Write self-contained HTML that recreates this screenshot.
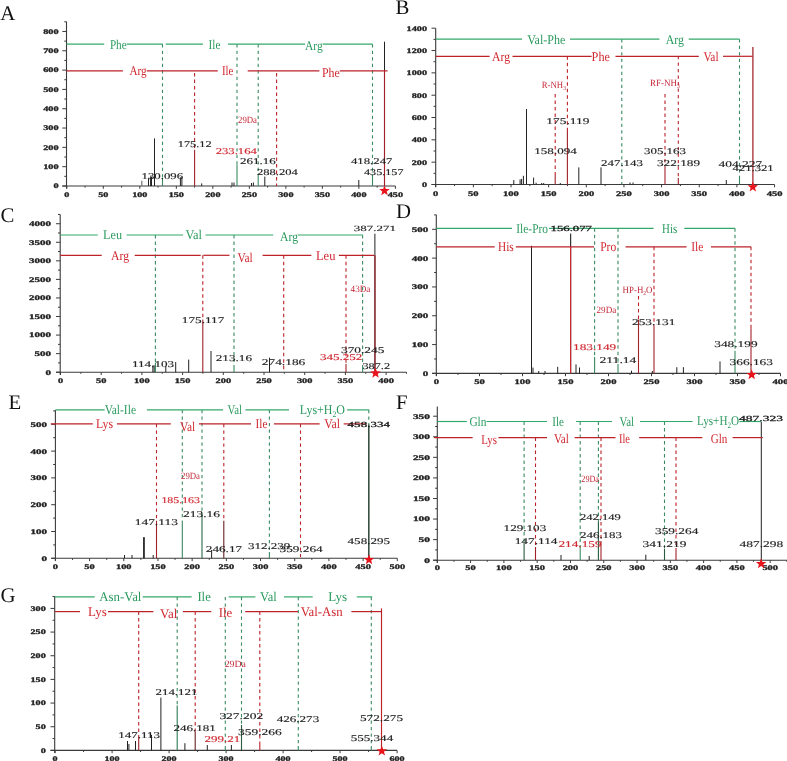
<!DOCTYPE html>
<html><head><meta charset="utf-8"><style>
html,body{margin:0;padding:0;background:#fff;}
svg{display:block;filter:blur(0.35px);}
text{font-family:"Liberation Serif",serif;text-rendering:geometricPrecision;}
.tk{font-weight:bold;stroke:#222;stroke-width:0.3px;}
.pb{font-weight:normal;stroke:#1a1a1a;stroke-width:0.28px;}
</style></head><body>
<svg width="787" height="761" viewBox="0 0 787 761">
<rect width="787" height="761" fill="#fff"/>
<text class="lt" x="0.3" y="20.1" font-size="20.8" fill="#111">A</text>
<line x1="66.50" y1="21.60" x2="66.50" y2="188.50" stroke="#3a3a3a" stroke-width="1.1"/>
<line x1="62.30" y1="186.00" x2="66.50" y2="186.00" stroke="#3a3a3a" stroke-width="1.0"/>
<text class="tk" x="53.45" y="188.40" font-size="7.1" fill="#222" textLength="5.15" lengthAdjust="spacingAndGlyphs">0</text>
<line x1="64.30" y1="176.34" x2="66.50" y2="176.34" stroke="#3a3a3a" stroke-width="1.0"/>
<line x1="62.30" y1="166.68" x2="66.50" y2="166.68" stroke="#3a3a3a" stroke-width="1.0"/>
<text class="tk" x="43.15" y="169.08" font-size="7.1" fill="#222" textLength="15.45" lengthAdjust="spacingAndGlyphs">100</text>
<line x1="64.30" y1="157.02" x2="66.50" y2="157.02" stroke="#3a3a3a" stroke-width="1.0"/>
<line x1="62.30" y1="147.36" x2="66.50" y2="147.36" stroke="#3a3a3a" stroke-width="1.0"/>
<text class="tk" x="43.15" y="149.76" font-size="7.1" fill="#222" textLength="15.45" lengthAdjust="spacingAndGlyphs">200</text>
<line x1="64.30" y1="137.70" x2="66.50" y2="137.70" stroke="#3a3a3a" stroke-width="1.0"/>
<line x1="62.30" y1="128.04" x2="66.50" y2="128.04" stroke="#3a3a3a" stroke-width="1.0"/>
<text class="tk" x="43.15" y="130.44" font-size="7.1" fill="#222" textLength="15.45" lengthAdjust="spacingAndGlyphs">300</text>
<line x1="64.30" y1="118.38" x2="66.50" y2="118.38" stroke="#3a3a3a" stroke-width="1.0"/>
<line x1="62.30" y1="108.72" x2="66.50" y2="108.72" stroke="#3a3a3a" stroke-width="1.0"/>
<text class="tk" x="43.15" y="111.12" font-size="7.1" fill="#222" textLength="15.45" lengthAdjust="spacingAndGlyphs">400</text>
<line x1="64.30" y1="99.06" x2="66.50" y2="99.06" stroke="#3a3a3a" stroke-width="1.0"/>
<line x1="62.30" y1="89.40" x2="66.50" y2="89.40" stroke="#3a3a3a" stroke-width="1.0"/>
<text class="tk" x="43.15" y="91.80" font-size="7.1" fill="#222" textLength="15.45" lengthAdjust="spacingAndGlyphs">500</text>
<line x1="64.30" y1="79.74" x2="66.50" y2="79.74" stroke="#3a3a3a" stroke-width="1.0"/>
<line x1="62.30" y1="70.08" x2="66.50" y2="70.08" stroke="#3a3a3a" stroke-width="1.0"/>
<text class="tk" x="43.15" y="72.48" font-size="7.1" fill="#222" textLength="15.45" lengthAdjust="spacingAndGlyphs">600</text>
<line x1="64.30" y1="60.42" x2="66.50" y2="60.42" stroke="#3a3a3a" stroke-width="1.0"/>
<line x1="62.30" y1="50.76" x2="66.50" y2="50.76" stroke="#3a3a3a" stroke-width="1.0"/>
<text class="tk" x="43.15" y="53.16" font-size="7.1" fill="#222" textLength="15.45" lengthAdjust="spacingAndGlyphs">700</text>
<line x1="64.30" y1="41.10" x2="66.50" y2="41.10" stroke="#3a3a3a" stroke-width="1.0"/>
<line x1="62.30" y1="31.44" x2="66.50" y2="31.44" stroke="#3a3a3a" stroke-width="1.0"/>
<text class="tk" x="43.15" y="33.84" font-size="7.1" fill="#222" textLength="15.45" lengthAdjust="spacingAndGlyphs">800</text>
<line x1="64.30" y1="21.78" x2="66.50" y2="21.78" stroke="#3a3a3a" stroke-width="1.0"/>
<line x1="62.30" y1="186.00" x2="395.40" y2="186.00" stroke="#3a3a3a" stroke-width="1.1"/>
<line x1="66.80" y1="186.00" x2="66.80" y2="188.80" stroke="#3a3a3a" stroke-width="1.0"/>
<text class="tk" x="64.25" y="197.30" font-size="7.1" fill="#222" textLength="5.10" lengthAdjust="spacingAndGlyphs">0</text>
<line x1="85.05" y1="186.00" x2="85.05" y2="187.60" stroke="#3a3a3a" stroke-width="1.0"/>
<line x1="103.31" y1="186.00" x2="103.31" y2="188.80" stroke="#3a3a3a" stroke-width="1.0"/>
<text class="tk" x="98.21" y="197.30" font-size="7.1" fill="#222" textLength="10.20" lengthAdjust="spacingAndGlyphs">50</text>
<line x1="121.56" y1="186.00" x2="121.56" y2="187.60" stroke="#3a3a3a" stroke-width="1.0"/>
<line x1="139.82" y1="186.00" x2="139.82" y2="188.80" stroke="#3a3a3a" stroke-width="1.0"/>
<text class="tk" x="132.17" y="197.30" font-size="7.1" fill="#222" textLength="15.30" lengthAdjust="spacingAndGlyphs">100</text>
<line x1="158.07" y1="186.00" x2="158.07" y2="187.60" stroke="#3a3a3a" stroke-width="1.0"/>
<line x1="176.33" y1="186.00" x2="176.33" y2="188.80" stroke="#3a3a3a" stroke-width="1.0"/>
<text class="tk" x="168.68" y="197.30" font-size="7.1" fill="#222" textLength="15.30" lengthAdjust="spacingAndGlyphs">150</text>
<line x1="194.58" y1="186.00" x2="194.58" y2="187.60" stroke="#3a3a3a" stroke-width="1.0"/>
<line x1="212.84" y1="186.00" x2="212.84" y2="188.80" stroke="#3a3a3a" stroke-width="1.0"/>
<text class="tk" x="205.19" y="197.30" font-size="7.1" fill="#222" textLength="15.30" lengthAdjust="spacingAndGlyphs">200</text>
<line x1="231.09" y1="186.00" x2="231.09" y2="187.60" stroke="#3a3a3a" stroke-width="1.0"/>
<line x1="249.35" y1="186.00" x2="249.35" y2="188.80" stroke="#3a3a3a" stroke-width="1.0"/>
<text class="tk" x="241.70" y="197.30" font-size="7.1" fill="#222" textLength="15.30" lengthAdjust="spacingAndGlyphs">250</text>
<line x1="267.60" y1="186.00" x2="267.60" y2="187.60" stroke="#3a3a3a" stroke-width="1.0"/>
<line x1="285.86" y1="186.00" x2="285.86" y2="188.80" stroke="#3a3a3a" stroke-width="1.0"/>
<text class="tk" x="278.21" y="197.30" font-size="7.1" fill="#222" textLength="15.30" lengthAdjust="spacingAndGlyphs">300</text>
<line x1="304.12" y1="186.00" x2="304.12" y2="187.60" stroke="#3a3a3a" stroke-width="1.0"/>
<line x1="322.37" y1="186.00" x2="322.37" y2="188.80" stroke="#3a3a3a" stroke-width="1.0"/>
<text class="tk" x="314.72" y="197.30" font-size="7.1" fill="#222" textLength="15.30" lengthAdjust="spacingAndGlyphs">350</text>
<line x1="340.62" y1="186.00" x2="340.62" y2="187.60" stroke="#3a3a3a" stroke-width="1.0"/>
<line x1="358.88" y1="186.00" x2="358.88" y2="188.80" stroke="#3a3a3a" stroke-width="1.0"/>
<text class="tk" x="351.23" y="197.30" font-size="7.1" fill="#222" textLength="15.30" lengthAdjust="spacingAndGlyphs">400</text>
<line x1="377.13" y1="186.00" x2="377.13" y2="187.60" stroke="#3a3a3a" stroke-width="1.0"/>
<line x1="395.39" y1="186.00" x2="395.39" y2="188.80" stroke="#3a3a3a" stroke-width="1.0"/>
<text class="tk" x="387.74" y="197.30" font-size="7.1" fill="#222" textLength="15.30" lengthAdjust="spacingAndGlyphs">450</text>
<line x1="141.80" y1="180.80" x2="141.80" y2="186.00" stroke="#777" stroke-width="1.25"/>
<line x1="148.50" y1="178.30" x2="148.50" y2="186.00" stroke="#222" stroke-width="1.0"/>
<line x1="150.60" y1="176.40" x2="150.60" y2="186.00" stroke="#222" stroke-width="1.0"/>
<line x1="151.50" y1="177.00" x2="151.50" y2="186.00" stroke="#222" stroke-width="1.0"/>
<line x1="154.50" y1="138.40" x2="154.50" y2="186.00" stroke="#222" stroke-width="1.0"/>
<line x1="180.40" y1="177.30" x2="180.40" y2="186.00" stroke="#222" stroke-width="1.0"/>
<line x1="181.90" y1="177.30" x2="181.90" y2="186.00" stroke="#222" stroke-width="1.0"/>
<line x1="201.70" y1="183.40" x2="201.70" y2="186.00" stroke="#222" stroke-width="1.0"/>
<line x1="232.00" y1="182.50" x2="232.00" y2="186.00" stroke="#222" stroke-width="1.0"/>
<line x1="234.00" y1="182.50" x2="234.00" y2="186.00" stroke="#222" stroke-width="1.0"/>
<line x1="251.50" y1="183.00" x2="251.50" y2="186.00" stroke="#222" stroke-width="1.0"/>
<line x1="253.40" y1="182.50" x2="253.40" y2="186.00" stroke="#222" stroke-width="1.0"/>
<line x1="264.80" y1="176.60" x2="264.80" y2="186.00" stroke="#222" stroke-width="1.0"/>
<line x1="358.80" y1="180.00" x2="358.80" y2="186.00" stroke="#222" stroke-width="1.0"/>
<line x1="384.50" y1="41.70" x2="384.50" y2="186.00" stroke="#222" stroke-width="1.0"/>
<line x1="162.50" y1="44.20" x2="162.50" y2="178.00" stroke="#3a8a62" stroke-width="1.1" stroke-dasharray="3.4,3.1"/>
<line x1="162.50" y1="178.00" x2="162.50" y2="186.00" stroke="#3a8a62" stroke-width="1.1"/>
<line x1="237.00" y1="44.20" x2="237.00" y2="164.60" stroke="#3a8a62" stroke-width="1.1" stroke-dasharray="3.4,3.1"/>
<line x1="237.00" y1="164.60" x2="237.00" y2="186.00" stroke="#3a8a62" stroke-width="1.1"/>
<line x1="258.20" y1="44.20" x2="258.20" y2="174.80" stroke="#3a8a62" stroke-width="1.1" stroke-dasharray="3.4,3.1"/>
<line x1="258.20" y1="174.80" x2="258.20" y2="186.00" stroke="#3a8a62" stroke-width="1.1"/>
<line x1="372.50" y1="44.20" x2="372.50" y2="174.80" stroke="#3a8a62" stroke-width="1.1" stroke-dasharray="3.4,3.1"/>
<line x1="372.50" y1="174.80" x2="372.50" y2="186.00" stroke="#3a8a62" stroke-width="1.1"/>
<line x1="194.60" y1="73.00" x2="194.60" y2="149.80" stroke="#bc2228" stroke-width="1.1" stroke-dasharray="3.4,3.1"/>
<line x1="194.60" y1="149.80" x2="194.60" y2="186.00" stroke="#a02228" stroke-width="1.1"/>
<line x1="276.60" y1="73.00" x2="276.60" y2="186.00" stroke="#bc2228" stroke-width="1.1" stroke-dasharray="3.4,3.1"/>
<line x1="384.50" y1="70.80" x2="384.50" y2="186.00" stroke="#a02228" stroke-width="1.15"/>
<line x1="66.50" y1="44.20" x2="104.20" y2="44.20" stroke="#33a86a" stroke-width="1.2"/>
<line x1="126.70" y1="44.20" x2="162.90" y2="44.20" stroke="#33a86a" stroke-width="1.2"/>
<line x1="165.70" y1="44.20" x2="202.90" y2="44.20" stroke="#33a86a" stroke-width="1.2"/>
<line x1="228.00" y1="44.20" x2="305.00" y2="44.20" stroke="#33a86a" stroke-width="1.2"/>
<line x1="322.70" y1="44.20" x2="372.80" y2="44.20" stroke="#33a86a" stroke-width="1.2"/>
<line x1="66.50" y1="70.80" x2="122.90" y2="70.80" stroke="#bc2228" stroke-width="1.2"/>
<line x1="146.70" y1="70.80" x2="217.80" y2="70.80" stroke="#bc2228" stroke-width="1.2"/>
<line x1="247.70" y1="70.80" x2="319.40" y2="70.80" stroke="#bc2228" stroke-width="1.2"/>
<line x1="339.80" y1="70.80" x2="387.50" y2="70.80" stroke="#bc2228" stroke-width="1.2"/>
<text class="aa" x="109.90" y="48.60" font-size="13.3" fill="#2a9a5e" textLength="16.80" lengthAdjust="spacingAndGlyphs">Phe</text>
<text class="aa" x="208.60" y="48.60" font-size="13.3" fill="#2a9a5e" textLength="11.90" lengthAdjust="spacingAndGlyphs">Ile</text>
<text class="aa" x="305.00" y="49.60" font-size="13.3" fill="#2a9a5e" textLength="17.70" lengthAdjust="spacingAndGlyphs">Arg</text>
<text class="aa" x="129.50" y="75.20" font-size="13.3" fill="#d02830" textLength="17.20" lengthAdjust="spacingAndGlyphs">Arg</text>
<text class="aa" x="222.00" y="75.20" font-size="13.3" fill="#d02830" textLength="11.40" lengthAdjust="spacingAndGlyphs">Ile</text>
<text class="aa" x="322.00" y="76.70" font-size="13.3" fill="#d02830" textLength="17.80" lengthAdjust="spacingAndGlyphs">Phe</text>
<text class="pk" x="177.80" y="147.00" font-size="8.8" fill="#222" stroke="#222" stroke-width="0.14" textLength="33.90" lengthAdjust="spacingAndGlyphs">175.12</text>
<text class="pk" x="141.50" y="178.80" font-size="8.8" fill="#222" stroke="#222" stroke-width="0.14" textLength="41.60" lengthAdjust="spacingAndGlyphs">130.096</text>
<text class="pk" x="215.70" y="153.70" font-size="8.8" fill="#d02830" stroke="#d02830" stroke-width="0.14" textLength="41.20" lengthAdjust="spacingAndGlyphs">233.164</text>
<text class="pk" x="240.00" y="163.90" font-size="8.8" fill="#222" stroke="#222" stroke-width="0.14" textLength="35.70" lengthAdjust="spacingAndGlyphs">261.16</text>
<text class="pk" x="257.00" y="174.90" font-size="8.8" fill="#222" stroke="#222" stroke-width="0.14" textLength="40.80" lengthAdjust="spacingAndGlyphs">288.204</text>
<text class="pk" x="351.00" y="163.90" font-size="8.8" fill="#222" stroke="#222" stroke-width="0.14" textLength="41.40" lengthAdjust="spacingAndGlyphs">418.247</text>
<text class="pk" x="364.00" y="174.90" font-size="8.8" fill="#222" stroke="#222" stroke-width="0.14" textLength="39.50" lengthAdjust="spacingAndGlyphs">435.157</text>
<text class="sm" x="238.00" y="123.30" font-size="9.6" fill="#c42838" textLength="19.00" lengthAdjust="spacingAndGlyphs">29Da</text>
<polygon points="384.50,185.30 385.86,188.93 389.73,189.10 386.70,191.51 387.73,195.25 384.50,193.11 381.27,195.25 382.30,191.51 379.27,189.10 383.14,188.93" fill="#e8141c"/>
<text class="lt" x="395.5" y="13.7" font-size="20.8" fill="#111">B</text>
<line x1="435.70" y1="28.20" x2="435.70" y2="187.00" stroke="#3a3a3a" stroke-width="1.1"/>
<line x1="431.50" y1="184.50" x2="435.70" y2="184.50" stroke="#3a3a3a" stroke-width="1.0"/>
<text class="tk" x="421.90" y="186.90" font-size="7.1" fill="#222" textLength="5.10" lengthAdjust="spacingAndGlyphs">0</text>
<line x1="433.50" y1="173.34" x2="435.70" y2="173.34" stroke="#3a3a3a" stroke-width="1.0"/>
<line x1="431.50" y1="162.17" x2="435.70" y2="162.17" stroke="#3a3a3a" stroke-width="1.0"/>
<text class="tk" x="411.70" y="164.57" font-size="7.1" fill="#222" textLength="15.30" lengthAdjust="spacingAndGlyphs">200</text>
<line x1="433.50" y1="151.01" x2="435.70" y2="151.01" stroke="#3a3a3a" stroke-width="1.0"/>
<line x1="431.50" y1="139.84" x2="435.70" y2="139.84" stroke="#3a3a3a" stroke-width="1.0"/>
<text class="tk" x="411.70" y="142.24" font-size="7.1" fill="#222" textLength="15.30" lengthAdjust="spacingAndGlyphs">400</text>
<line x1="433.50" y1="128.68" x2="435.70" y2="128.68" stroke="#3a3a3a" stroke-width="1.0"/>
<line x1="431.50" y1="117.52" x2="435.70" y2="117.52" stroke="#3a3a3a" stroke-width="1.0"/>
<text class="tk" x="411.70" y="119.92" font-size="7.1" fill="#222" textLength="15.30" lengthAdjust="spacingAndGlyphs">600</text>
<line x1="433.50" y1="106.35" x2="435.70" y2="106.35" stroke="#3a3a3a" stroke-width="1.0"/>
<line x1="431.50" y1="95.19" x2="435.70" y2="95.19" stroke="#3a3a3a" stroke-width="1.0"/>
<text class="tk" x="411.70" y="97.59" font-size="7.1" fill="#222" textLength="15.30" lengthAdjust="spacingAndGlyphs">800</text>
<line x1="433.50" y1="84.02" x2="435.70" y2="84.02" stroke="#3a3a3a" stroke-width="1.0"/>
<line x1="431.50" y1="72.86" x2="435.70" y2="72.86" stroke="#3a3a3a" stroke-width="1.0"/>
<text class="tk" x="406.60" y="75.26" font-size="7.1" fill="#222" textLength="20.40" lengthAdjust="spacingAndGlyphs">1000</text>
<line x1="433.50" y1="61.70" x2="435.70" y2="61.70" stroke="#3a3a3a" stroke-width="1.0"/>
<line x1="431.50" y1="50.53" x2="435.70" y2="50.53" stroke="#3a3a3a" stroke-width="1.0"/>
<text class="tk" x="406.60" y="52.93" font-size="7.1" fill="#222" textLength="20.40" lengthAdjust="spacingAndGlyphs">1200</text>
<line x1="433.50" y1="39.37" x2="435.70" y2="39.37" stroke="#3a3a3a" stroke-width="1.0"/>
<line x1="431.50" y1="28.20" x2="435.70" y2="28.20" stroke="#3a3a3a" stroke-width="1.0"/>
<text class="tk" x="406.60" y="30.60" font-size="7.1" fill="#222" textLength="20.40" lengthAdjust="spacingAndGlyphs">1400</text>
<line x1="431.50" y1="184.50" x2="774.50" y2="184.50" stroke="#3a3a3a" stroke-width="1.1"/>
<line x1="435.70" y1="184.50" x2="435.70" y2="187.30" stroke="#3a3a3a" stroke-width="1.0"/>
<text class="tk" x="433.07" y="195.60" font-size="7.1" fill="#222" textLength="5.25" lengthAdjust="spacingAndGlyphs">0</text>
<line x1="454.52" y1="184.50" x2="454.52" y2="186.10" stroke="#3a3a3a" stroke-width="1.0"/>
<line x1="473.35" y1="184.50" x2="473.35" y2="187.30" stroke="#3a3a3a" stroke-width="1.0"/>
<text class="tk" x="468.10" y="195.60" font-size="7.1" fill="#222" textLength="10.50" lengthAdjust="spacingAndGlyphs">50</text>
<line x1="492.17" y1="184.50" x2="492.17" y2="186.10" stroke="#3a3a3a" stroke-width="1.0"/>
<line x1="511.00" y1="184.50" x2="511.00" y2="187.30" stroke="#3a3a3a" stroke-width="1.0"/>
<text class="tk" x="503.12" y="195.60" font-size="7.1" fill="#222" textLength="15.75" lengthAdjust="spacingAndGlyphs">100</text>
<line x1="529.83" y1="184.50" x2="529.83" y2="186.10" stroke="#3a3a3a" stroke-width="1.0"/>
<line x1="548.65" y1="184.50" x2="548.65" y2="187.30" stroke="#3a3a3a" stroke-width="1.0"/>
<text class="tk" x="540.77" y="195.60" font-size="7.1" fill="#222" textLength="15.75" lengthAdjust="spacingAndGlyphs">150</text>
<line x1="567.48" y1="184.50" x2="567.48" y2="186.10" stroke="#3a3a3a" stroke-width="1.0"/>
<line x1="586.30" y1="184.50" x2="586.30" y2="187.30" stroke="#3a3a3a" stroke-width="1.0"/>
<text class="tk" x="578.42" y="195.60" font-size="7.1" fill="#222" textLength="15.75" lengthAdjust="spacingAndGlyphs">200</text>
<line x1="605.12" y1="184.50" x2="605.12" y2="186.10" stroke="#3a3a3a" stroke-width="1.0"/>
<line x1="623.95" y1="184.50" x2="623.95" y2="187.30" stroke="#3a3a3a" stroke-width="1.0"/>
<text class="tk" x="616.08" y="195.60" font-size="7.1" fill="#222" textLength="15.75" lengthAdjust="spacingAndGlyphs">250</text>
<line x1="642.78" y1="184.50" x2="642.78" y2="186.10" stroke="#3a3a3a" stroke-width="1.0"/>
<line x1="661.60" y1="184.50" x2="661.60" y2="187.30" stroke="#3a3a3a" stroke-width="1.0"/>
<text class="tk" x="653.73" y="195.60" font-size="7.1" fill="#222" textLength="15.75" lengthAdjust="spacingAndGlyphs">300</text>
<line x1="680.43" y1="184.50" x2="680.43" y2="186.10" stroke="#3a3a3a" stroke-width="1.0"/>
<line x1="699.25" y1="184.50" x2="699.25" y2="187.30" stroke="#3a3a3a" stroke-width="1.0"/>
<text class="tk" x="691.38" y="195.60" font-size="7.1" fill="#222" textLength="15.75" lengthAdjust="spacingAndGlyphs">350</text>
<line x1="718.08" y1="184.50" x2="718.08" y2="186.10" stroke="#3a3a3a" stroke-width="1.0"/>
<line x1="736.90" y1="184.50" x2="736.90" y2="187.30" stroke="#3a3a3a" stroke-width="1.0"/>
<text class="tk" x="729.02" y="195.60" font-size="7.1" fill="#222" textLength="15.75" lengthAdjust="spacingAndGlyphs">400</text>
<line x1="755.73" y1="184.50" x2="755.73" y2="186.10" stroke="#3a3a3a" stroke-width="1.0"/>
<line x1="774.55" y1="184.50" x2="774.55" y2="187.30" stroke="#3a3a3a" stroke-width="1.0"/>
<text class="tk" x="766.67" y="195.60" font-size="7.1" fill="#222" textLength="15.75" lengthAdjust="spacingAndGlyphs">450</text>
<line x1="513.80" y1="180.10" x2="513.80" y2="184.50" stroke="#222" stroke-width="1.0"/>
<line x1="520.10" y1="179.40" x2="520.10" y2="184.50" stroke="#222" stroke-width="1.0"/>
<line x1="521.60" y1="178.90" x2="521.60" y2="184.50" stroke="#222" stroke-width="1.0"/>
<line x1="523.40" y1="175.80" x2="523.40" y2="184.50" stroke="#222" stroke-width="1.0"/>
<line x1="526.50" y1="109.00" x2="526.50" y2="184.50" stroke="#222" stroke-width="1.0"/>
<line x1="533.60" y1="177.60" x2="533.60" y2="184.50" stroke="#222" stroke-width="1.0"/>
<line x1="536.10" y1="182.70" x2="536.10" y2="184.50" stroke="#222" stroke-width="1.0"/>
<line x1="541.70" y1="183.00" x2="541.70" y2="184.50" stroke="#222" stroke-width="1.0"/>
<line x1="543.70" y1="183.00" x2="543.70" y2="184.50" stroke="#222" stroke-width="1.0"/>
<line x1="560.30" y1="183.00" x2="560.30" y2="184.50" stroke="#222" stroke-width="1.0"/>
<line x1="578.80" y1="167.40" x2="578.80" y2="184.50" stroke="#222" stroke-width="1.0"/>
<line x1="601.00" y1="167.40" x2="601.00" y2="184.50" stroke="#222" stroke-width="1.0"/>
<line x1="630.00" y1="182.50" x2="630.00" y2="184.50" stroke="#222" stroke-width="1.0"/>
<line x1="633.00" y1="182.50" x2="633.00" y2="184.50" stroke="#222" stroke-width="1.0"/>
<line x1="726.30" y1="180.00" x2="726.30" y2="184.50" stroke="#222" stroke-width="1.0"/>
<line x1="752.90" y1="47.00" x2="752.90" y2="184.50" stroke="#a02228" stroke-width="1.25"/>
<line x1="621.80" y1="39.20" x2="621.80" y2="182.00" stroke="#3a8a62" stroke-width="1.1" stroke-dasharray="3.4,3.1"/>
<line x1="621.80" y1="182.00" x2="621.80" y2="184.50" stroke="#3a8a62" stroke-width="1.1"/>
<line x1="739.50" y1="39.20" x2="739.50" y2="178.00" stroke="#3a8a62" stroke-width="1.1" stroke-dasharray="3.4,3.1"/>
<line x1="739.50" y1="178.00" x2="739.50" y2="184.50" stroke="#3a8a62" stroke-width="1.1"/>
<line x1="555.20" y1="94.00" x2="555.20" y2="175.00" stroke="#bc2228" stroke-width="1.1" stroke-dasharray="3.4,3.1"/>
<line x1="555.20" y1="175.00" x2="555.20" y2="184.50" stroke="#a02228" stroke-width="1.1"/>
<line x1="567.40" y1="56.30" x2="567.40" y2="131.00" stroke="#bc2228" stroke-width="1.1" stroke-dasharray="3.4,3.1"/>
<line x1="567.40" y1="131.00" x2="567.40" y2="184.50" stroke="#a02228" stroke-width="1.1"/>
<line x1="665.00" y1="94.00" x2="665.00" y2="166.00" stroke="#bc2228" stroke-width="1.1" stroke-dasharray="3.4,3.1"/>
<line x1="665.00" y1="166.00" x2="665.00" y2="184.50" stroke="#a02228" stroke-width="1.1"/>
<line x1="678.30" y1="55.90" x2="678.30" y2="178.00" stroke="#bc2228" stroke-width="1.1" stroke-dasharray="3.4,3.1"/>
<line x1="678.30" y1="178.00" x2="678.30" y2="184.50" stroke="#a02228" stroke-width="1.1"/>
<line x1="435.70" y1="39.20" x2="522.00" y2="39.20" stroke="#33a86a" stroke-width="1.2"/>
<line x1="570.00" y1="39.20" x2="659.40" y2="39.20" stroke="#33a86a" stroke-width="1.2"/>
<line x1="688.70" y1="39.20" x2="739.50" y2="39.20" stroke="#33a86a" stroke-width="1.2"/>
<line x1="435.70" y1="56.30" x2="489.60" y2="56.30" stroke="#bc2228" stroke-width="1.2"/>
<line x1="512.50" y1="56.30" x2="591.60" y2="56.30" stroke="#bc2228" stroke-width="1.2"/>
<line x1="615.50" y1="56.30" x2="698.80" y2="56.30" stroke="#bc2228" stroke-width="1.2"/>
<line x1="723.00" y1="56.30" x2="752.70" y2="56.30" stroke="#bc2228" stroke-width="1.2"/>
<text class="aa" x="527.20" y="43.60" font-size="13.3" fill="#2a9a5e" textLength="38.10" lengthAdjust="spacingAndGlyphs">Val-Phe</text>
<text class="aa" x="665.80" y="43.60" font-size="13.3" fill="#2a9a5e" textLength="18.20" lengthAdjust="spacingAndGlyphs">Arg</text>
<text class="aa" x="492.00" y="60.70" font-size="13.3" fill="#d02830" textLength="18.00" lengthAdjust="spacingAndGlyphs">Arg</text>
<text class="aa" x="591.60" y="60.70" font-size="13.3" fill="#d02830" textLength="18.30" lengthAdjust="spacingAndGlyphs">Phe</text>
<text class="aa" x="703.40" y="60.70" font-size="13.3" fill="#d02830" textLength="15.20" lengthAdjust="spacingAndGlyphs">Val</text>
<text class="pk" x="546.30" y="123.50" font-size="8.8" fill="#222" stroke="#222" stroke-width="0.14" textLength="43.20" lengthAdjust="spacingAndGlyphs">175.119</text>
<text class="pk" x="534.30" y="153.50" font-size="8.8" fill="#222" stroke="#222" stroke-width="0.14" textLength="42.50" lengthAdjust="spacingAndGlyphs">158.094</text>
<text class="pk" x="601.00" y="166.10" font-size="8.8" fill="#222" stroke="#222" stroke-width="0.14" textLength="42.00" lengthAdjust="spacingAndGlyphs">247.143</text>
<text class="pk" x="644.00" y="153.50" font-size="8.8" fill="#222" stroke="#222" stroke-width="0.14" textLength="42.00" lengthAdjust="spacingAndGlyphs">305.163</text>
<text class="pk" x="657.00" y="166.10" font-size="8.8" fill="#222" stroke="#222" stroke-width="0.14" textLength="43.00" lengthAdjust="spacingAndGlyphs">322.189</text>
<text class="pk" x="718.60" y="167.10" font-size="8.8" fill="#222" stroke="#222" stroke-width="0.14" textLength="43.70" lengthAdjust="spacingAndGlyphs">404.227</text>
<text class="pk" x="732.50" y="170.70" font-size="8.8" fill="#222" stroke="#222" stroke-width="0.14" textLength="41.10" lengthAdjust="spacingAndGlyphs">421.321</text>
<text class="sm" x="541.70" y="88.40" font-size="9.6" fill="#c42838" textLength="24.20" lengthAdjust="spacingAndGlyphs">R-NH<tspan font-size="6" dy="2">3</tspan></text>
<text class="sm" x="650.00" y="85.90" font-size="9.6" fill="#c42838" textLength="29.80" lengthAdjust="spacingAndGlyphs">RF-NH<tspan font-size="6" dy="2">3</tspan></text>
<polygon points="752.80,181.50 754.16,185.13 758.03,185.30 755.00,187.71 756.03,191.45 752.80,189.31 749.57,191.45 750.60,187.71 747.57,185.30 751.44,185.13" fill="#e8141c"/>
<text class="lt" x="0.6" y="222.0" font-size="20.8" fill="#111">C</text>
<line x1="60.20" y1="214.60" x2="60.20" y2="374.70" stroke="#3a3a3a" stroke-width="1.1"/>
<line x1="56.00" y1="372.20" x2="60.20" y2="372.20" stroke="#3a3a3a" stroke-width="1.0"/>
<text class="tk" x="45.60" y="374.60" font-size="7.1" fill="#222" textLength="5.50" lengthAdjust="spacingAndGlyphs">0</text>
<line x1="58.00" y1="362.92" x2="60.20" y2="362.92" stroke="#3a3a3a" stroke-width="1.0"/>
<line x1="56.00" y1="353.64" x2="60.20" y2="353.64" stroke="#3a3a3a" stroke-width="1.0"/>
<text class="tk" x="34.60" y="356.04" font-size="7.1" fill="#222" textLength="16.50" lengthAdjust="spacingAndGlyphs">500</text>
<line x1="58.00" y1="344.36" x2="60.20" y2="344.36" stroke="#3a3a3a" stroke-width="1.0"/>
<line x1="56.00" y1="335.08" x2="60.20" y2="335.08" stroke="#3a3a3a" stroke-width="1.0"/>
<text class="tk" x="29.10" y="337.48" font-size="7.1" fill="#222" textLength="22.00" lengthAdjust="spacingAndGlyphs">1000</text>
<line x1="58.00" y1="325.80" x2="60.20" y2="325.80" stroke="#3a3a3a" stroke-width="1.0"/>
<line x1="56.00" y1="316.52" x2="60.20" y2="316.52" stroke="#3a3a3a" stroke-width="1.0"/>
<text class="tk" x="29.10" y="318.92" font-size="7.1" fill="#222" textLength="22.00" lengthAdjust="spacingAndGlyphs">1500</text>
<line x1="58.00" y1="307.24" x2="60.20" y2="307.24" stroke="#3a3a3a" stroke-width="1.0"/>
<line x1="56.00" y1="297.96" x2="60.20" y2="297.96" stroke="#3a3a3a" stroke-width="1.0"/>
<text class="tk" x="29.10" y="300.36" font-size="7.1" fill="#222" textLength="22.00" lengthAdjust="spacingAndGlyphs">2000</text>
<line x1="58.00" y1="288.68" x2="60.20" y2="288.68" stroke="#3a3a3a" stroke-width="1.0"/>
<line x1="56.00" y1="279.40" x2="60.20" y2="279.40" stroke="#3a3a3a" stroke-width="1.0"/>
<text class="tk" x="29.10" y="281.80" font-size="7.1" fill="#222" textLength="22.00" lengthAdjust="spacingAndGlyphs">2500</text>
<line x1="58.00" y1="270.12" x2="60.20" y2="270.12" stroke="#3a3a3a" stroke-width="1.0"/>
<line x1="56.00" y1="260.84" x2="60.20" y2="260.84" stroke="#3a3a3a" stroke-width="1.0"/>
<text class="tk" x="29.10" y="263.24" font-size="7.1" fill="#222" textLength="22.00" lengthAdjust="spacingAndGlyphs">3000</text>
<line x1="58.00" y1="251.56" x2="60.20" y2="251.56" stroke="#3a3a3a" stroke-width="1.0"/>
<line x1="56.00" y1="242.28" x2="60.20" y2="242.28" stroke="#3a3a3a" stroke-width="1.0"/>
<text class="tk" x="29.10" y="244.68" font-size="7.1" fill="#222" textLength="22.00" lengthAdjust="spacingAndGlyphs">3500</text>
<line x1="58.00" y1="233.00" x2="60.20" y2="233.00" stroke="#3a3a3a" stroke-width="1.0"/>
<line x1="56.00" y1="223.72" x2="60.20" y2="223.72" stroke="#3a3a3a" stroke-width="1.0"/>
<text class="tk" x="29.10" y="226.12" font-size="7.1" fill="#222" textLength="22.00" lengthAdjust="spacingAndGlyphs">4000</text>
<line x1="58.00" y1="214.44" x2="60.20" y2="214.44" stroke="#3a3a3a" stroke-width="1.0"/>
<line x1="56.00" y1="372.20" x2="406.50" y2="372.20" stroke="#3a3a3a" stroke-width="1.1"/>
<line x1="60.50" y1="372.20" x2="60.50" y2="375.00" stroke="#3a3a3a" stroke-width="1.0"/>
<text class="tk" x="57.90" y="383.10" font-size="7.1" fill="#222" textLength="5.20" lengthAdjust="spacingAndGlyphs">0</text>
<line x1="80.85" y1="372.20" x2="80.85" y2="373.80" stroke="#3a3a3a" stroke-width="1.0"/>
<line x1="101.20" y1="372.20" x2="101.20" y2="375.00" stroke="#3a3a3a" stroke-width="1.0"/>
<text class="tk" x="96.00" y="383.10" font-size="7.1" fill="#222" textLength="10.40" lengthAdjust="spacingAndGlyphs">50</text>
<line x1="121.55" y1="372.20" x2="121.55" y2="373.80" stroke="#3a3a3a" stroke-width="1.0"/>
<line x1="141.90" y1="372.20" x2="141.90" y2="375.00" stroke="#3a3a3a" stroke-width="1.0"/>
<text class="tk" x="134.10" y="383.10" font-size="7.1" fill="#222" textLength="15.60" lengthAdjust="spacingAndGlyphs">100</text>
<line x1="162.25" y1="372.20" x2="162.25" y2="373.80" stroke="#3a3a3a" stroke-width="1.0"/>
<line x1="182.60" y1="372.20" x2="182.60" y2="375.00" stroke="#3a3a3a" stroke-width="1.0"/>
<text class="tk" x="174.80" y="383.10" font-size="7.1" fill="#222" textLength="15.60" lengthAdjust="spacingAndGlyphs">150</text>
<line x1="202.95" y1="372.20" x2="202.95" y2="373.80" stroke="#3a3a3a" stroke-width="1.0"/>
<line x1="223.30" y1="372.20" x2="223.30" y2="375.00" stroke="#3a3a3a" stroke-width="1.0"/>
<text class="tk" x="215.50" y="383.10" font-size="7.1" fill="#222" textLength="15.60" lengthAdjust="spacingAndGlyphs">200</text>
<line x1="243.65" y1="372.20" x2="243.65" y2="373.80" stroke="#3a3a3a" stroke-width="1.0"/>
<line x1="264.00" y1="372.20" x2="264.00" y2="375.00" stroke="#3a3a3a" stroke-width="1.0"/>
<text class="tk" x="256.20" y="383.10" font-size="7.1" fill="#222" textLength="15.60" lengthAdjust="spacingAndGlyphs">250</text>
<line x1="284.35" y1="372.20" x2="284.35" y2="373.80" stroke="#3a3a3a" stroke-width="1.0"/>
<line x1="304.70" y1="372.20" x2="304.70" y2="375.00" stroke="#3a3a3a" stroke-width="1.0"/>
<text class="tk" x="296.90" y="383.10" font-size="7.1" fill="#222" textLength="15.60" lengthAdjust="spacingAndGlyphs">300</text>
<line x1="325.05" y1="372.20" x2="325.05" y2="373.80" stroke="#3a3a3a" stroke-width="1.0"/>
<line x1="345.40" y1="372.20" x2="345.40" y2="375.00" stroke="#3a3a3a" stroke-width="1.0"/>
<text class="tk" x="337.60" y="383.10" font-size="7.1" fill="#222" textLength="15.60" lengthAdjust="spacingAndGlyphs">350</text>
<line x1="365.75" y1="372.20" x2="365.75" y2="373.80" stroke="#3a3a3a" stroke-width="1.0"/>
<line x1="386.10" y1="372.20" x2="386.10" y2="375.00" stroke="#3a3a3a" stroke-width="1.0"/>
<text class="tk" x="378.30" y="383.10" font-size="7.1" fill="#222" textLength="15.60" lengthAdjust="spacingAndGlyphs">400</text>
<line x1="406.45" y1="372.20" x2="406.45" y2="373.80" stroke="#3a3a3a" stroke-width="1.0"/>
<line x1="152.90" y1="365.30" x2="152.90" y2="372.20" stroke="#222" stroke-width="1.0"/>
<line x1="154.20" y1="365.30" x2="154.20" y2="372.20" stroke="#222" stroke-width="1.0"/>
<line x1="165.80" y1="366.20" x2="165.80" y2="372.20" stroke="#222" stroke-width="1.0"/>
<line x1="175.70" y1="362.00" x2="175.70" y2="372.20" stroke="#222" stroke-width="1.0"/>
<line x1="188.70" y1="359.60" x2="188.70" y2="372.20" stroke="#222" stroke-width="1.0"/>
<line x1="211.00" y1="351.00" x2="211.00" y2="372.20" stroke="#222" stroke-width="1.0"/>
<line x1="269.50" y1="357.70" x2="269.50" y2="372.20" stroke="#222" stroke-width="1.0"/>
<line x1="374.90" y1="233.70" x2="374.90" y2="372.20" stroke="#222" stroke-width="1.0"/>
<line x1="155.40" y1="235.00" x2="155.40" y2="363.00" stroke="#3a8a62" stroke-width="1.1" stroke-dasharray="3.4,3.1"/>
<line x1="155.40" y1="363.00" x2="155.40" y2="372.20" stroke="#3a8a62" stroke-width="1.1"/>
<line x1="234.00" y1="235.00" x2="234.00" y2="366.00" stroke="#3a8a62" stroke-width="1.1" stroke-dasharray="3.4,3.1"/>
<line x1="234.00" y1="366.00" x2="234.00" y2="372.20" stroke="#3a8a62" stroke-width="1.1"/>
<line x1="362.60" y1="235.00" x2="362.60" y2="365.00" stroke="#3a8a62" stroke-width="1.1" stroke-dasharray="3.4,3.1"/>
<line x1="362.60" y1="365.00" x2="362.60" y2="372.20" stroke="#3a8a62" stroke-width="1.1"/>
<line x1="202.80" y1="255.30" x2="202.80" y2="319.50" stroke="#bc2228" stroke-width="1.1" stroke-dasharray="3.4,3.1"/>
<line x1="202.80" y1="319.50" x2="202.80" y2="372.20" stroke="#a02228" stroke-width="1.1"/>
<line x1="283.70" y1="255.30" x2="283.70" y2="372.20" stroke="#bc2228" stroke-width="1.1" stroke-dasharray="3.4,3.1"/>
<line x1="346.00" y1="255.30" x2="346.00" y2="364.00" stroke="#bc2228" stroke-width="1.1" stroke-dasharray="3.4,3.1"/>
<line x1="346.00" y1="364.00" x2="346.00" y2="372.20" stroke="#a02228" stroke-width="1.1"/>
<line x1="375.00" y1="255.30" x2="375.00" y2="372.20" stroke="#a02228" stroke-width="1.15"/>
<line x1="60.20" y1="235.00" x2="97.80" y2="235.00" stroke="#33a86a" stroke-width="1.2"/>
<line x1="126.60" y1="235.00" x2="183.00" y2="235.00" stroke="#33a86a" stroke-width="1.2"/>
<line x1="205.50" y1="235.00" x2="273.20" y2="235.00" stroke="#33a86a" stroke-width="1.2"/>
<line x1="298.00" y1="235.00" x2="362.90" y2="235.00" stroke="#33a86a" stroke-width="1.2"/>
<line x1="60.20" y1="255.30" x2="101.70" y2="255.30" stroke="#bc2228" stroke-width="1.2"/>
<line x1="134.70" y1="255.30" x2="200.70" y2="255.30" stroke="#bc2228" stroke-width="1.2"/>
<line x1="203.30" y1="255.30" x2="229.50" y2="255.30" stroke="#bc2228" stroke-width="1.2"/>
<line x1="262.60" y1="255.30" x2="311.40" y2="255.30" stroke="#bc2228" stroke-width="1.2"/>
<line x1="338.90" y1="255.30" x2="374.00" y2="255.30" stroke="#bc2228" stroke-width="1.2"/>
<text class="aa" x="103.00" y="239.40" font-size="13.3" fill="#2a9a5e" textLength="19.00" lengthAdjust="spacingAndGlyphs">Leu</text>
<text class="aa" x="185.50" y="239.40" font-size="13.3" fill="#2a9a5e" textLength="16.50" lengthAdjust="spacingAndGlyphs">Val</text>
<text class="aa" x="280.00" y="240.90" font-size="13.3" fill="#2a9a5e" textLength="18.00" lengthAdjust="spacingAndGlyphs">Arg</text>
<text class="aa" x="111.00" y="259.70" font-size="13.3" fill="#d02830" textLength="18.00" lengthAdjust="spacingAndGlyphs">Arg</text>
<text class="aa" x="237.50" y="261.70" font-size="13.3" fill="#d02830" textLength="15.20" lengthAdjust="spacingAndGlyphs">Val</text>
<text class="aa" x="316.00" y="259.70" font-size="13.3" fill="#d02830" textLength="19.40" lengthAdjust="spacingAndGlyphs">Leu</text>
<text class="pk" x="353.80" y="231.10" font-size="8.0" fill="#222" stroke="#222" stroke-width="0.14" textLength="42.20" lengthAdjust="spacingAndGlyphs">387.271</text>
<text class="pk" x="181.80" y="323.00" font-size="8.8" fill="#222" stroke="#222" stroke-width="0.14" textLength="42.50" lengthAdjust="spacingAndGlyphs">175.117</text>
<text class="pk" x="131.90" y="366.60" font-size="8.8" fill="#222" stroke="#222" stroke-width="0.14" textLength="42.30" lengthAdjust="spacingAndGlyphs">114.103</text>
<text class="pk" x="215.80" y="361.10" font-size="8.8" fill="#222" stroke="#222" stroke-width="0.14" textLength="36.20" lengthAdjust="spacingAndGlyphs">213.16</text>
<text class="pk" x="261.80" y="364.70" font-size="8.8" fill="#222" stroke="#222" stroke-width="0.14" textLength="43.50" lengthAdjust="spacingAndGlyphs">274.186</text>
<text class="pk" x="341.00" y="352.70" font-size="8.8" fill="#222" stroke="#222" stroke-width="0.14" textLength="43.40" lengthAdjust="spacingAndGlyphs">370.245</text>
<text class="pk" x="320.00" y="360.30" font-size="8.8" fill="#d02830" stroke="#d02830" stroke-width="0.14" textLength="42.40" lengthAdjust="spacingAndGlyphs">345.252</text>
<text class="pk" x="362.50" y="369.40" font-size="8.8" fill="#222" stroke="#222" stroke-width="0.14" textLength="27.50" lengthAdjust="spacingAndGlyphs">387.2</text>
<text class="sm" x="350.60" y="291.70" font-size="9.6" fill="#c42838" textLength="19.80" lengthAdjust="spacingAndGlyphs">43Da</text>
<polygon points="375.50,367.70 376.86,371.33 380.73,371.50 377.70,373.91 378.73,377.65 375.50,375.51 372.27,377.65 373.30,373.91 370.27,371.50 374.14,371.33" fill="#e8141c"/>
<text class="lt" x="396.0" y="217.9" font-size="20.8" fill="#111">D</text>
<line x1="436.30" y1="214.80" x2="436.30" y2="375.90" stroke="#3a3a3a" stroke-width="1.1"/>
<line x1="432.10" y1="373.40" x2="436.30" y2="373.40" stroke="#3a3a3a" stroke-width="1.0"/>
<text class="tk" x="422.80" y="375.80" font-size="7.1" fill="#222" textLength="5.50" lengthAdjust="spacingAndGlyphs">0</text>
<line x1="434.10" y1="358.99" x2="436.30" y2="358.99" stroke="#3a3a3a" stroke-width="1.0"/>
<line x1="432.10" y1="344.58" x2="436.30" y2="344.58" stroke="#3a3a3a" stroke-width="1.0"/>
<text class="tk" x="411.80" y="346.98" font-size="7.1" fill="#222" textLength="16.50" lengthAdjust="spacingAndGlyphs">100</text>
<line x1="434.10" y1="330.17" x2="436.30" y2="330.17" stroke="#3a3a3a" stroke-width="1.0"/>
<line x1="432.10" y1="315.76" x2="436.30" y2="315.76" stroke="#3a3a3a" stroke-width="1.0"/>
<text class="tk" x="411.80" y="318.16" font-size="7.1" fill="#222" textLength="16.50" lengthAdjust="spacingAndGlyphs">200</text>
<line x1="434.10" y1="301.35" x2="436.30" y2="301.35" stroke="#3a3a3a" stroke-width="1.0"/>
<line x1="432.10" y1="286.94" x2="436.30" y2="286.94" stroke="#3a3a3a" stroke-width="1.0"/>
<text class="tk" x="411.80" y="289.34" font-size="7.1" fill="#222" textLength="16.50" lengthAdjust="spacingAndGlyphs">300</text>
<line x1="434.10" y1="272.53" x2="436.30" y2="272.53" stroke="#3a3a3a" stroke-width="1.0"/>
<line x1="432.10" y1="258.12" x2="436.30" y2="258.12" stroke="#3a3a3a" stroke-width="1.0"/>
<text class="tk" x="411.80" y="260.52" font-size="7.1" fill="#222" textLength="16.50" lengthAdjust="spacingAndGlyphs">400</text>
<line x1="434.10" y1="243.71" x2="436.30" y2="243.71" stroke="#3a3a3a" stroke-width="1.0"/>
<line x1="432.10" y1="229.30" x2="436.30" y2="229.30" stroke="#3a3a3a" stroke-width="1.0"/>
<text class="tk" x="411.80" y="231.70" font-size="7.1" fill="#222" textLength="16.50" lengthAdjust="spacingAndGlyphs">500</text>
<line x1="434.10" y1="214.89" x2="436.30" y2="214.89" stroke="#3a3a3a" stroke-width="1.0"/>
<line x1="432.10" y1="373.40" x2="780.60" y2="373.40" stroke="#3a3a3a" stroke-width="1.1"/>
<line x1="436.50" y1="373.40" x2="436.50" y2="376.20" stroke="#3a3a3a" stroke-width="1.0"/>
<text class="tk" x="433.85" y="384.40" font-size="7.1" fill="#222" textLength="5.30" lengthAdjust="spacingAndGlyphs">0</text>
<line x1="458.00" y1="373.40" x2="458.00" y2="375.00" stroke="#3a3a3a" stroke-width="1.0"/>
<line x1="479.50" y1="373.40" x2="479.50" y2="376.20" stroke="#3a3a3a" stroke-width="1.0"/>
<text class="tk" x="474.20" y="384.40" font-size="7.1" fill="#222" textLength="10.60" lengthAdjust="spacingAndGlyphs">50</text>
<line x1="501.00" y1="373.40" x2="501.00" y2="375.00" stroke="#3a3a3a" stroke-width="1.0"/>
<line x1="522.50" y1="373.40" x2="522.50" y2="376.20" stroke="#3a3a3a" stroke-width="1.0"/>
<text class="tk" x="514.55" y="384.40" font-size="7.1" fill="#222" textLength="15.90" lengthAdjust="spacingAndGlyphs">100</text>
<line x1="544.00" y1="373.40" x2="544.00" y2="375.00" stroke="#3a3a3a" stroke-width="1.0"/>
<line x1="565.50" y1="373.40" x2="565.50" y2="376.20" stroke="#3a3a3a" stroke-width="1.0"/>
<text class="tk" x="557.55" y="384.40" font-size="7.1" fill="#222" textLength="15.90" lengthAdjust="spacingAndGlyphs">150</text>
<line x1="587.00" y1="373.40" x2="587.00" y2="375.00" stroke="#3a3a3a" stroke-width="1.0"/>
<line x1="608.50" y1="373.40" x2="608.50" y2="376.20" stroke="#3a3a3a" stroke-width="1.0"/>
<text class="tk" x="600.55" y="384.40" font-size="7.1" fill="#222" textLength="15.90" lengthAdjust="spacingAndGlyphs">200</text>
<line x1="630.00" y1="373.40" x2="630.00" y2="375.00" stroke="#3a3a3a" stroke-width="1.0"/>
<line x1="651.50" y1="373.40" x2="651.50" y2="376.20" stroke="#3a3a3a" stroke-width="1.0"/>
<text class="tk" x="643.55" y="384.40" font-size="7.1" fill="#222" textLength="15.90" lengthAdjust="spacingAndGlyphs">250</text>
<line x1="673.00" y1="373.40" x2="673.00" y2="375.00" stroke="#3a3a3a" stroke-width="1.0"/>
<line x1="694.50" y1="373.40" x2="694.50" y2="376.20" stroke="#3a3a3a" stroke-width="1.0"/>
<text class="tk" x="686.55" y="384.40" font-size="7.1" fill="#222" textLength="15.90" lengthAdjust="spacingAndGlyphs">300</text>
<line x1="716.00" y1="373.40" x2="716.00" y2="375.00" stroke="#3a3a3a" stroke-width="1.0"/>
<line x1="737.50" y1="373.40" x2="737.50" y2="376.20" stroke="#3a3a3a" stroke-width="1.0"/>
<text class="tk" x="729.55" y="384.40" font-size="7.1" fill="#222" textLength="15.90" lengthAdjust="spacingAndGlyphs">350</text>
<line x1="759.00" y1="373.40" x2="759.00" y2="375.00" stroke="#3a3a3a" stroke-width="1.0"/>
<line x1="780.50" y1="373.40" x2="780.50" y2="376.20" stroke="#3a3a3a" stroke-width="1.0"/>
<text class="tk" x="772.55" y="384.40" font-size="7.1" fill="#222" textLength="15.90" lengthAdjust="spacingAndGlyphs">400</text>
<line x1="531.50" y1="245.80" x2="531.50" y2="373.40" stroke="#222" stroke-width="1.0"/>
<line x1="533.00" y1="367.60" x2="533.00" y2="373.40" stroke="#222" stroke-width="1.0"/>
<line x1="538.70" y1="371.00" x2="538.70" y2="373.40" stroke="#222" stroke-width="1.0"/>
<line x1="545.00" y1="371.00" x2="545.00" y2="373.40" stroke="#222" stroke-width="1.0"/>
<line x1="557.70" y1="366.80" x2="557.70" y2="373.40" stroke="#222" stroke-width="1.0"/>
<line x1="576.00" y1="364.40" x2="576.00" y2="373.40" stroke="#222" stroke-width="1.0"/>
<line x1="579.50" y1="367.50" x2="579.50" y2="373.40" stroke="#222" stroke-width="1.0"/>
<line x1="631.50" y1="370.70" x2="631.50" y2="373.40" stroke="#222" stroke-width="1.0"/>
<line x1="652.30" y1="371.00" x2="652.30" y2="373.40" stroke="#222" stroke-width="1.0"/>
<line x1="676.80" y1="367.20" x2="676.80" y2="373.40" stroke="#222" stroke-width="1.0"/>
<line x1="683.40" y1="367.20" x2="683.40" y2="373.40" stroke="#222" stroke-width="1.0"/>
<line x1="720.00" y1="361.40" x2="720.00" y2="373.40" stroke="#222" stroke-width="1.0"/>
<line x1="570.60" y1="233.60" x2="570.60" y2="373.40" stroke="#333" stroke-width="1.25"/>
<line x1="594.60" y1="228.30" x2="594.60" y2="357.00" stroke="#3a8a62" stroke-width="1.1" stroke-dasharray="3.4,3.1"/>
<line x1="594.60" y1="357.00" x2="594.60" y2="373.40" stroke="#3a8a62" stroke-width="1.1"/>
<line x1="618.00" y1="228.30" x2="618.00" y2="364.00" stroke="#3a8a62" stroke-width="1.1" stroke-dasharray="3.4,3.1"/>
<line x1="618.00" y1="364.00" x2="618.00" y2="373.40" stroke="#3a8a62" stroke-width="1.1"/>
<line x1="735.00" y1="228.30" x2="735.00" y2="350.80" stroke="#3a8a62" stroke-width="1.1" stroke-dasharray="3.4,3.1"/>
<line x1="735.00" y1="350.80" x2="735.00" y2="373.40" stroke="#3a8a62" stroke-width="1.1"/>
<line x1="638.50" y1="296.00" x2="638.50" y2="319.60" stroke="#bc2228" stroke-width="1.1" stroke-dasharray="3.4,3.1"/>
<line x1="638.50" y1="319.60" x2="638.50" y2="373.40" stroke="#a02228" stroke-width="1.1"/>
<line x1="654.00" y1="246.80" x2="654.00" y2="326.80" stroke="#bc2228" stroke-width="1.1" stroke-dasharray="3.4,3.1"/>
<line x1="654.00" y1="326.80" x2="654.00" y2="373.40" stroke="#a02228" stroke-width="1.1"/>
<line x1="751.00" y1="246.80" x2="751.00" y2="328.30" stroke="#bc2228" stroke-width="1.1" stroke-dasharray="3.4,3.1"/>
<line x1="751.00" y1="328.30" x2="751.00" y2="373.40" stroke="#a02228" stroke-width="1.1"/>
<line x1="570.60" y1="246.80" x2="570.60" y2="373.40" stroke="#d02830" stroke-width="1.15"/>
<line x1="436.30" y1="228.30" x2="512.00" y2="228.30" stroke="#33a86a" stroke-width="1.2"/>
<line x1="549.00" y1="228.30" x2="653.60" y2="228.30" stroke="#33a86a" stroke-width="1.2"/>
<line x1="684.30" y1="228.30" x2="735.00" y2="228.30" stroke="#33a86a" stroke-width="1.2"/>
<line x1="436.30" y1="246.80" x2="494.70" y2="246.80" stroke="#bc2228" stroke-width="1.2"/>
<line x1="515.80" y1="246.80" x2="594.00" y2="246.80" stroke="#bc2228" stroke-width="1.2"/>
<line x1="625.60" y1="246.80" x2="686.60" y2="246.80" stroke="#bc2228" stroke-width="1.2"/>
<line x1="711.00" y1="246.80" x2="751.00" y2="246.80" stroke="#bc2228" stroke-width="1.2"/>
<text class="aa" x="516.30" y="232.70" font-size="13.3" fill="#2a9a5e" textLength="31.70" lengthAdjust="spacingAndGlyphs">Ile-Pro</text>
<text class="aa" x="662.00" y="232.70" font-size="13.3" fill="#2a9a5e" textLength="15.20" lengthAdjust="spacingAndGlyphs">His</text>
<text class="aa" x="498.00" y="251.20" font-size="13.3" fill="#d02830" textLength="15.80" lengthAdjust="spacingAndGlyphs">His</text>
<text class="aa" x="600.20" y="251.20" font-size="13.3" fill="#d02830" textLength="16.00" lengthAdjust="spacingAndGlyphs">Pro</text>
<text class="aa" x="691.20" y="251.20" font-size="13.3" fill="#d02830" textLength="12.20" lengthAdjust="spacingAndGlyphs">Ile</text>
<text class="pb" x="550.50" y="231.40" font-size="7.8" fill="#1a1a1a" textLength="41.50" lengthAdjust="spacingAndGlyphs">156.077</text>
<text class="pk" x="573.00" y="349.70" font-size="8.8" fill="#d02830" stroke="#d02830" stroke-width="0.14" textLength="43.20" lengthAdjust="spacingAndGlyphs">183.149</text>
<text class="pk" x="599.50" y="362.50" font-size="8.8" fill="#222" stroke="#222" stroke-width="0.14" textLength="36.90" lengthAdjust="spacingAndGlyphs">211.14</text>
<text class="pk" x="632.00" y="324.70" font-size="8.8" fill="#222" stroke="#222" stroke-width="0.14" textLength="43.40" lengthAdjust="spacingAndGlyphs">253.131</text>
<text class="pk" x="714.30" y="347.20" font-size="8.8" fill="#222" stroke="#222" stroke-width="0.14" textLength="43.30" lengthAdjust="spacingAndGlyphs">348.199</text>
<text class="pk" x="729.60" y="364.50" font-size="8.8" fill="#222" stroke="#222" stroke-width="0.14" textLength="43.30" lengthAdjust="spacingAndGlyphs">366.163</text>
<text class="sm" x="596.60" y="312.80" font-size="9.6" fill="#c42838" textLength="19.60" lengthAdjust="spacingAndGlyphs">29Da</text>
<text class="sm" x="622.60" y="292.60" font-size="9.6" fill="#c42838" textLength="29.90" lengthAdjust="spacingAndGlyphs">HP-H<tspan font-size="6" dy="2">2</tspan><tspan dy="-2">O</tspan></text>
<polygon points="751.70,369.30 753.06,372.93 756.93,373.10 753.90,375.51 754.93,379.25 751.70,377.11 748.47,379.25 749.50,375.51 746.47,373.10 750.34,372.93" fill="#e8141c"/>
<text class="lt" x="8.5" y="409.1" font-size="20.8" fill="#111">E</text>
<line x1="55.40" y1="409.90" x2="55.40" y2="560.80" stroke="#3a3a3a" stroke-width="1.1"/>
<line x1="51.20" y1="558.30" x2="55.40" y2="558.30" stroke="#3a3a3a" stroke-width="1.0"/>
<text class="tk" x="41.60" y="560.70" font-size="7.1" fill="#222" textLength="5.50" lengthAdjust="spacingAndGlyphs">0</text>
<line x1="53.20" y1="544.90" x2="55.40" y2="544.90" stroke="#3a3a3a" stroke-width="1.0"/>
<line x1="51.20" y1="531.50" x2="55.40" y2="531.50" stroke="#3a3a3a" stroke-width="1.0"/>
<text class="tk" x="30.60" y="533.90" font-size="7.1" fill="#222" textLength="16.50" lengthAdjust="spacingAndGlyphs">100</text>
<line x1="53.20" y1="518.10" x2="55.40" y2="518.10" stroke="#3a3a3a" stroke-width="1.0"/>
<line x1="51.20" y1="504.70" x2="55.40" y2="504.70" stroke="#3a3a3a" stroke-width="1.0"/>
<text class="tk" x="30.60" y="507.10" font-size="7.1" fill="#222" textLength="16.50" lengthAdjust="spacingAndGlyphs">200</text>
<line x1="53.20" y1="491.30" x2="55.40" y2="491.30" stroke="#3a3a3a" stroke-width="1.0"/>
<line x1="51.20" y1="477.90" x2="55.40" y2="477.90" stroke="#3a3a3a" stroke-width="1.0"/>
<text class="tk" x="30.60" y="480.30" font-size="7.1" fill="#222" textLength="16.50" lengthAdjust="spacingAndGlyphs">300</text>
<line x1="53.20" y1="464.50" x2="55.40" y2="464.50" stroke="#3a3a3a" stroke-width="1.0"/>
<line x1="51.20" y1="451.10" x2="55.40" y2="451.10" stroke="#3a3a3a" stroke-width="1.0"/>
<text class="tk" x="30.60" y="453.50" font-size="7.1" fill="#222" textLength="16.50" lengthAdjust="spacingAndGlyphs">400</text>
<line x1="53.20" y1="437.70" x2="55.40" y2="437.70" stroke="#3a3a3a" stroke-width="1.0"/>
<line x1="51.20" y1="424.30" x2="55.40" y2="424.30" stroke="#3a3a3a" stroke-width="1.0"/>
<text class="tk" x="30.60" y="426.70" font-size="7.1" fill="#222" textLength="16.50" lengthAdjust="spacingAndGlyphs">500</text>
<line x1="53.20" y1="410.90" x2="55.40" y2="410.90" stroke="#3a3a3a" stroke-width="1.0"/>
<line x1="51.20" y1="558.30" x2="397.30" y2="558.30" stroke="#3a3a3a" stroke-width="1.1"/>
<line x1="55.40" y1="558.30" x2="55.40" y2="561.10" stroke="#3a3a3a" stroke-width="1.0"/>
<text class="tk" x="52.80" y="568.90" font-size="7.1" fill="#222" textLength="5.20" lengthAdjust="spacingAndGlyphs">0</text>
<line x1="72.50" y1="558.30" x2="72.50" y2="559.90" stroke="#3a3a3a" stroke-width="1.0"/>
<line x1="89.59" y1="558.30" x2="89.59" y2="561.10" stroke="#3a3a3a" stroke-width="1.0"/>
<text class="tk" x="84.39" y="568.90" font-size="7.1" fill="#222" textLength="10.40" lengthAdjust="spacingAndGlyphs">50</text>
<line x1="106.69" y1="558.30" x2="106.69" y2="559.90" stroke="#3a3a3a" stroke-width="1.0"/>
<line x1="123.78" y1="558.30" x2="123.78" y2="561.10" stroke="#3a3a3a" stroke-width="1.0"/>
<text class="tk" x="115.98" y="568.90" font-size="7.1" fill="#222" textLength="15.60" lengthAdjust="spacingAndGlyphs">100</text>
<line x1="140.88" y1="558.30" x2="140.88" y2="559.90" stroke="#3a3a3a" stroke-width="1.0"/>
<line x1="157.97" y1="558.30" x2="157.97" y2="561.10" stroke="#3a3a3a" stroke-width="1.0"/>
<text class="tk" x="150.17" y="568.90" font-size="7.1" fill="#222" textLength="15.60" lengthAdjust="spacingAndGlyphs">150</text>
<line x1="175.06" y1="558.30" x2="175.06" y2="559.90" stroke="#3a3a3a" stroke-width="1.0"/>
<line x1="192.16" y1="558.30" x2="192.16" y2="561.10" stroke="#3a3a3a" stroke-width="1.0"/>
<text class="tk" x="184.36" y="568.90" font-size="7.1" fill="#222" textLength="15.60" lengthAdjust="spacingAndGlyphs">200</text>
<line x1="209.25" y1="558.30" x2="209.25" y2="559.90" stroke="#3a3a3a" stroke-width="1.0"/>
<line x1="226.35" y1="558.30" x2="226.35" y2="561.10" stroke="#3a3a3a" stroke-width="1.0"/>
<text class="tk" x="218.55" y="568.90" font-size="7.1" fill="#222" textLength="15.60" lengthAdjust="spacingAndGlyphs">250</text>
<line x1="243.44" y1="558.30" x2="243.44" y2="559.90" stroke="#3a3a3a" stroke-width="1.0"/>
<line x1="260.54" y1="558.30" x2="260.54" y2="561.10" stroke="#3a3a3a" stroke-width="1.0"/>
<text class="tk" x="252.74" y="568.90" font-size="7.1" fill="#222" textLength="15.60" lengthAdjust="spacingAndGlyphs">300</text>
<line x1="277.63" y1="558.30" x2="277.63" y2="559.90" stroke="#3a3a3a" stroke-width="1.0"/>
<line x1="294.73" y1="558.30" x2="294.73" y2="561.10" stroke="#3a3a3a" stroke-width="1.0"/>
<text class="tk" x="286.93" y="568.90" font-size="7.1" fill="#222" textLength="15.60" lengthAdjust="spacingAndGlyphs">350</text>
<line x1="311.82" y1="558.30" x2="311.82" y2="559.90" stroke="#3a3a3a" stroke-width="1.0"/>
<line x1="328.92" y1="558.30" x2="328.92" y2="561.10" stroke="#3a3a3a" stroke-width="1.0"/>
<text class="tk" x="321.12" y="568.90" font-size="7.1" fill="#222" textLength="15.60" lengthAdjust="spacingAndGlyphs">400</text>
<line x1="346.01" y1="558.30" x2="346.01" y2="559.90" stroke="#3a3a3a" stroke-width="1.0"/>
<line x1="363.11" y1="558.30" x2="363.11" y2="561.10" stroke="#3a3a3a" stroke-width="1.0"/>
<text class="tk" x="355.31" y="568.90" font-size="7.1" fill="#222" textLength="15.60" lengthAdjust="spacingAndGlyphs">450</text>
<line x1="380.20" y1="558.30" x2="380.20" y2="559.90" stroke="#3a3a3a" stroke-width="1.0"/>
<line x1="397.30" y1="558.30" x2="397.30" y2="561.10" stroke="#3a3a3a" stroke-width="1.0"/>
<text class="tk" x="389.50" y="568.90" font-size="7.1" fill="#222" textLength="15.60" lengthAdjust="spacingAndGlyphs">500</text>
<line x1="124.50" y1="555.00" x2="124.50" y2="558.30" stroke="#222" stroke-width="1.0"/>
<line x1="132.00" y1="555.00" x2="132.00" y2="558.30" stroke="#222" stroke-width="1.0"/>
<line x1="143.60" y1="537.20" x2="143.60" y2="558.30" stroke="#222" stroke-width="1.0"/>
<line x1="144.30" y1="537.20" x2="144.30" y2="558.30" stroke="#222" stroke-width="1.0"/>
<line x1="153.20" y1="555.00" x2="153.20" y2="558.30" stroke="#222" stroke-width="1.0"/>
<line x1="211.60" y1="549.90" x2="211.60" y2="558.30" stroke="#222" stroke-width="1.0"/>
<line x1="368.80" y1="424.40" x2="368.80" y2="558.30" stroke="#222" stroke-width="1.0"/>
<line x1="368.80" y1="409.90" x2="368.80" y2="424.40" stroke="#3a8a62" stroke-width="1.1" stroke-dasharray="3.4,3.1"/>
<line x1="368.80" y1="424.40" x2="368.80" y2="558.30" stroke="#2a4a3a" stroke-width="1.1"/>
<line x1="182.30" y1="409.90" x2="182.30" y2="520.70" stroke="#3a8a62" stroke-width="1.1" stroke-dasharray="3.4,3.1"/>
<line x1="182.30" y1="520.70" x2="182.30" y2="558.30" stroke="#3a8a62" stroke-width="1.1"/>
<line x1="202.00" y1="409.90" x2="202.00" y2="513.00" stroke="#3a8a62" stroke-width="1.1" stroke-dasharray="3.4,3.1"/>
<line x1="202.00" y1="513.00" x2="202.00" y2="558.30" stroke="#2a6a4a" stroke-width="1.1"/>
<line x1="269.40" y1="409.90" x2="269.40" y2="552.00" stroke="#3a8a62" stroke-width="1.1" stroke-dasharray="3.4,3.1"/>
<line x1="269.40" y1="552.00" x2="269.40" y2="558.30" stroke="#3a8a62" stroke-width="1.1"/>
<line x1="156.50" y1="423.90" x2="156.50" y2="520.70" stroke="#bc2228" stroke-width="1.1" stroke-dasharray="3.4,3.1"/>
<line x1="156.50" y1="520.70" x2="156.50" y2="558.30" stroke="#a02228" stroke-width="1.1"/>
<line x1="223.80" y1="423.90" x2="223.80" y2="520.70" stroke="#bc2228" stroke-width="1.1" stroke-dasharray="3.4,3.1"/>
<line x1="223.80" y1="520.70" x2="223.80" y2="558.30" stroke="#6a2020" stroke-width="1.1"/>
<line x1="300.50" y1="423.90" x2="300.50" y2="558.30" stroke="#bc2228" stroke-width="1.1" stroke-dasharray="3.4,3.1"/>
<line x1="55.40" y1="409.90" x2="104.70" y2="409.90" stroke="#33a86a" stroke-width="1.2"/>
<line x1="146.90" y1="409.90" x2="223.00" y2="409.90" stroke="#33a86a" stroke-width="1.2"/>
<line x1="245.40" y1="409.90" x2="289.00" y2="409.90" stroke="#33a86a" stroke-width="1.2"/>
<line x1="347.00" y1="409.90" x2="369.20" y2="409.90" stroke="#33a86a" stroke-width="1.2"/>
<line x1="50.80" y1="423.90" x2="92.80" y2="423.90" stroke="#bc2228" stroke-width="1.2"/>
<line x1="116.90" y1="423.90" x2="170.80" y2="423.90" stroke="#bc2228" stroke-width="1.2"/>
<line x1="198.90" y1="423.90" x2="251.00" y2="423.90" stroke="#bc2228" stroke-width="1.2"/>
<line x1="273.90" y1="423.90" x2="319.60" y2="423.90" stroke="#bc2228" stroke-width="1.2"/>
<line x1="343.70" y1="423.90" x2="366.50" y2="423.90" stroke="#bc2228" stroke-width="1.2"/>
<text class="aa" x="104.70" y="414.30" font-size="13.3" fill="#2a9a5e" textLength="31.30" lengthAdjust="spacingAndGlyphs">Val-Ile</text>
<text class="aa" x="227.60" y="414.30" font-size="13.3" fill="#2a9a5e" textLength="14.40" lengthAdjust="spacingAndGlyphs">Val</text>
<text class="aa" x="299.80" y="414.30" font-size="13.3" fill="#2a9a5e" textLength="45.20" lengthAdjust="spacingAndGlyphs">Lys+H<tspan font-size="8.5" dy="3">2</tspan><tspan dy="-3">O</tspan></text>
<text class="aa" x="96.00" y="428.30" font-size="13.3" fill="#d02830" textLength="17.00" lengthAdjust="spacingAndGlyphs">Lys</text>
<text class="aa" x="180.00" y="430.90" font-size="13.3" fill="#d02830" textLength="15.20" lengthAdjust="spacingAndGlyphs">Val</text>
<text class="aa" x="255.60" y="428.30" font-size="13.3" fill="#d02830" textLength="11.90" lengthAdjust="spacingAndGlyphs">Ile</text>
<text class="aa" x="324.20" y="428.30" font-size="13.3" fill="#d02830" textLength="15.80" lengthAdjust="spacingAndGlyphs">Val</text>
<text class="pk" x="161.40" y="503.40" font-size="8.8" fill="#d02830" stroke="#d02830" stroke-width="0.14" textLength="38.60" lengthAdjust="spacingAndGlyphs">185.163</text>
<text class="pk" x="134.70" y="525.00" font-size="8.8" fill="#222" stroke="#222" stroke-width="0.14" textLength="43.20" lengthAdjust="spacingAndGlyphs">147.113</text>
<text class="pk" x="183.00" y="516.60" font-size="8.8" fill="#222" stroke="#222" stroke-width="0.14" textLength="37.00" lengthAdjust="spacingAndGlyphs">213.16</text>
<text class="pk" x="205.80" y="551.70" font-size="8.8" fill="#222" stroke="#222" stroke-width="0.14" textLength="36.30" lengthAdjust="spacingAndGlyphs">246.17</text>
<text class="pk" x="248.00" y="549.10" font-size="8.8" fill="#222" stroke="#222" stroke-width="0.14" textLength="42.40" lengthAdjust="spacingAndGlyphs">312.239</text>
<text class="pk" x="279.50" y="551.70" font-size="8.8" fill="#222" stroke="#222" stroke-width="0.14" textLength="43.20" lengthAdjust="spacingAndGlyphs">359.264</text>
<text class="pk" x="347.60" y="544.10" font-size="8.8" fill="#222" stroke="#222" stroke-width="0.14" textLength="42.40" lengthAdjust="spacingAndGlyphs">458.295</text>
<text class="pb" x="347.60" y="427.20" font-size="7.8" fill="#1a1a1a" textLength="42.40" lengthAdjust="spacingAndGlyphs">458.334</text>
<text class="sm" x="181.00" y="479.30" font-size="9.6" fill="#c42838" textLength="19.00" lengthAdjust="spacingAndGlyphs">29Da</text>
<polygon points="369.00,554.30 370.36,557.93 374.23,558.10 371.20,560.51 372.23,564.25 369.00,562.11 365.77,564.25 366.80,560.51 363.77,558.10 367.64,557.93" fill="#e8141c"/>
<text class="lt" x="396.0" y="409.2" font-size="20.8" fill="#111">F</text>
<line x1="437.30" y1="406.60" x2="437.30" y2="562.70" stroke="#3a3a3a" stroke-width="1.1"/>
<line x1="433.10" y1="560.20" x2="437.30" y2="560.20" stroke="#3a3a3a" stroke-width="1.0"/>
<text class="tk" x="424.30" y="562.60" font-size="7.1" fill="#222" textLength="5.70" lengthAdjust="spacingAndGlyphs">0</text>
<line x1="435.10" y1="549.92" x2="437.30" y2="549.92" stroke="#3a3a3a" stroke-width="1.0"/>
<line x1="433.10" y1="539.63" x2="437.30" y2="539.63" stroke="#3a3a3a" stroke-width="1.0"/>
<text class="tk" x="418.60" y="542.03" font-size="7.1" fill="#222" textLength="11.40" lengthAdjust="spacingAndGlyphs">50</text>
<line x1="435.10" y1="529.35" x2="437.30" y2="529.35" stroke="#3a3a3a" stroke-width="1.0"/>
<line x1="433.10" y1="519.06" x2="437.30" y2="519.06" stroke="#3a3a3a" stroke-width="1.0"/>
<text class="tk" x="412.90" y="521.46" font-size="7.1" fill="#222" textLength="17.10" lengthAdjust="spacingAndGlyphs">100</text>
<line x1="435.10" y1="508.78" x2="437.30" y2="508.78" stroke="#3a3a3a" stroke-width="1.0"/>
<line x1="433.10" y1="498.49" x2="437.30" y2="498.49" stroke="#3a3a3a" stroke-width="1.0"/>
<text class="tk" x="412.90" y="500.89" font-size="7.1" fill="#222" textLength="17.10" lengthAdjust="spacingAndGlyphs">150</text>
<line x1="435.10" y1="488.21" x2="437.30" y2="488.21" stroke="#3a3a3a" stroke-width="1.0"/>
<line x1="433.10" y1="477.92" x2="437.30" y2="477.92" stroke="#3a3a3a" stroke-width="1.0"/>
<text class="tk" x="412.90" y="480.32" font-size="7.1" fill="#222" textLength="17.10" lengthAdjust="spacingAndGlyphs">200</text>
<line x1="435.10" y1="467.64" x2="437.30" y2="467.64" stroke="#3a3a3a" stroke-width="1.0"/>
<line x1="433.10" y1="457.35" x2="437.30" y2="457.35" stroke="#3a3a3a" stroke-width="1.0"/>
<text class="tk" x="412.90" y="459.75" font-size="7.1" fill="#222" textLength="17.10" lengthAdjust="spacingAndGlyphs">250</text>
<line x1="435.10" y1="447.06" x2="437.30" y2="447.06" stroke="#3a3a3a" stroke-width="1.0"/>
<line x1="433.10" y1="436.78" x2="437.30" y2="436.78" stroke="#3a3a3a" stroke-width="1.0"/>
<text class="tk" x="412.90" y="439.18" font-size="7.1" fill="#222" textLength="17.10" lengthAdjust="spacingAndGlyphs">300</text>
<line x1="435.10" y1="426.50" x2="437.30" y2="426.50" stroke="#3a3a3a" stroke-width="1.0"/>
<line x1="433.10" y1="416.21" x2="437.30" y2="416.21" stroke="#3a3a3a" stroke-width="1.0"/>
<text class="tk" x="412.90" y="418.61" font-size="7.1" fill="#222" textLength="17.10" lengthAdjust="spacingAndGlyphs">350</text>
<line x1="433.10" y1="560.20" x2="787.50" y2="560.20" stroke="#3a3a3a" stroke-width="1.1"/>
<line x1="437.30" y1="560.20" x2="437.30" y2="563.00" stroke="#3a3a3a" stroke-width="1.0"/>
<text class="tk" x="434.70" y="570.40" font-size="7.1" fill="#222" textLength="5.20" lengthAdjust="spacingAndGlyphs">0</text>
<line x1="453.94" y1="560.20" x2="453.94" y2="561.80" stroke="#3a3a3a" stroke-width="1.0"/>
<line x1="470.59" y1="560.20" x2="470.59" y2="563.00" stroke="#3a3a3a" stroke-width="1.0"/>
<text class="tk" x="465.39" y="570.40" font-size="7.1" fill="#222" textLength="10.40" lengthAdjust="spacingAndGlyphs">50</text>
<line x1="487.24" y1="560.20" x2="487.24" y2="561.80" stroke="#3a3a3a" stroke-width="1.0"/>
<line x1="503.88" y1="560.20" x2="503.88" y2="563.00" stroke="#3a3a3a" stroke-width="1.0"/>
<text class="tk" x="496.08" y="570.40" font-size="7.1" fill="#222" textLength="15.60" lengthAdjust="spacingAndGlyphs">100</text>
<line x1="520.52" y1="560.20" x2="520.52" y2="561.80" stroke="#3a3a3a" stroke-width="1.0"/>
<line x1="537.17" y1="560.20" x2="537.17" y2="563.00" stroke="#3a3a3a" stroke-width="1.0"/>
<text class="tk" x="529.37" y="570.40" font-size="7.1" fill="#222" textLength="15.60" lengthAdjust="spacingAndGlyphs">150</text>
<line x1="553.81" y1="560.20" x2="553.81" y2="561.80" stroke="#3a3a3a" stroke-width="1.0"/>
<line x1="570.46" y1="560.20" x2="570.46" y2="563.00" stroke="#3a3a3a" stroke-width="1.0"/>
<text class="tk" x="562.66" y="570.40" font-size="7.1" fill="#222" textLength="15.60" lengthAdjust="spacingAndGlyphs">200</text>
<line x1="587.11" y1="560.20" x2="587.11" y2="561.80" stroke="#3a3a3a" stroke-width="1.0"/>
<line x1="603.75" y1="560.20" x2="603.75" y2="563.00" stroke="#3a3a3a" stroke-width="1.0"/>
<text class="tk" x="595.95" y="570.40" font-size="7.1" fill="#222" textLength="15.60" lengthAdjust="spacingAndGlyphs">250</text>
<line x1="620.39" y1="560.20" x2="620.39" y2="561.80" stroke="#3a3a3a" stroke-width="1.0"/>
<line x1="637.04" y1="560.20" x2="637.04" y2="563.00" stroke="#3a3a3a" stroke-width="1.0"/>
<text class="tk" x="629.24" y="570.40" font-size="7.1" fill="#222" textLength="15.60" lengthAdjust="spacingAndGlyphs">300</text>
<line x1="653.68" y1="560.20" x2="653.68" y2="561.80" stroke="#3a3a3a" stroke-width="1.0"/>
<line x1="670.33" y1="560.20" x2="670.33" y2="563.00" stroke="#3a3a3a" stroke-width="1.0"/>
<text class="tk" x="662.53" y="570.40" font-size="7.1" fill="#222" textLength="15.60" lengthAdjust="spacingAndGlyphs">350</text>
<line x1="686.97" y1="560.20" x2="686.97" y2="561.80" stroke="#3a3a3a" stroke-width="1.0"/>
<line x1="703.62" y1="560.20" x2="703.62" y2="563.00" stroke="#3a3a3a" stroke-width="1.0"/>
<text class="tk" x="695.82" y="570.40" font-size="7.1" fill="#222" textLength="15.60" lengthAdjust="spacingAndGlyphs">400</text>
<line x1="720.26" y1="560.20" x2="720.26" y2="561.80" stroke="#3a3a3a" stroke-width="1.0"/>
<line x1="736.91" y1="560.20" x2="736.91" y2="563.00" stroke="#3a3a3a" stroke-width="1.0"/>
<text class="tk" x="729.11" y="570.40" font-size="7.1" fill="#222" textLength="15.60" lengthAdjust="spacingAndGlyphs">450</text>
<line x1="753.55" y1="560.20" x2="753.55" y2="561.80" stroke="#3a3a3a" stroke-width="1.0"/>
<line x1="770.20" y1="560.20" x2="770.20" y2="563.00" stroke="#3a3a3a" stroke-width="1.0"/>
<text class="tk" x="762.40" y="570.40" font-size="7.1" fill="#222" textLength="15.60" lengthAdjust="spacingAndGlyphs">500</text>
<line x1="786.85" y1="560.20" x2="786.85" y2="561.80" stroke="#3a3a3a" stroke-width="1.0"/>
<line x1="561.00" y1="555.00" x2="561.00" y2="560.20" stroke="#222" stroke-width="1.0"/>
<line x1="589.20" y1="556.00" x2="589.20" y2="560.20" stroke="#222" stroke-width="1.0"/>
<line x1="645.80" y1="554.70" x2="645.80" y2="560.20" stroke="#222" stroke-width="1.0"/>
<line x1="761.30" y1="421.80" x2="761.30" y2="560.20" stroke="#222" stroke-width="1.0"/>
<line x1="524.10" y1="421.50" x2="524.10" y2="543.00" stroke="#3a8a62" stroke-width="1.1" stroke-dasharray="3.4,3.1"/>
<line x1="524.10" y1="543.00" x2="524.10" y2="560.20" stroke="#2a5a40" stroke-width="1.1"/>
<line x1="580.20" y1="421.50" x2="580.20" y2="548.40" stroke="#3a8a62" stroke-width="1.1" stroke-dasharray="3.4,3.1"/>
<line x1="580.20" y1="548.40" x2="580.20" y2="560.20" stroke="#3a8a62" stroke-width="1.1"/>
<line x1="598.40" y1="421.50" x2="598.40" y2="521.30" stroke="#3a8a62" stroke-width="1.1" stroke-dasharray="3.4,3.1"/>
<line x1="598.40" y1="521.30" x2="598.40" y2="560.20" stroke="#2a5a40" stroke-width="1.1"/>
<line x1="664.50" y1="421.50" x2="664.50" y2="549.00" stroke="#3a8a62" stroke-width="1.1" stroke-dasharray="3.4,3.1"/>
<line x1="664.50" y1="549.00" x2="664.50" y2="560.20" stroke="#2a5a40" stroke-width="1.1"/>
<line x1="535.50" y1="437.60" x2="535.50" y2="547.00" stroke="#bc2228" stroke-width="1.1" stroke-dasharray="3.4,3.1"/>
<line x1="535.50" y1="547.00" x2="535.50" y2="560.20" stroke="#a02228" stroke-width="1.1"/>
<line x1="601.00" y1="437.60" x2="601.00" y2="541.00" stroke="#bc2228" stroke-width="1.1" stroke-dasharray="3.4,3.1"/>
<line x1="601.00" y1="541.00" x2="601.00" y2="560.20" stroke="#a02228" stroke-width="1.1"/>
<line x1="676.00" y1="437.60" x2="676.00" y2="549.00" stroke="#bc2228" stroke-width="1.1" stroke-dasharray="3.4,3.1"/>
<line x1="676.00" y1="549.00" x2="676.00" y2="560.20" stroke="#a02228" stroke-width="1.1"/>
<line x1="437.30" y1="421.50" x2="466.80" y2="421.50" stroke="#33a86a" stroke-width="1.2"/>
<line x1="486.50" y1="421.50" x2="547.00" y2="421.50" stroke="#33a86a" stroke-width="1.2"/>
<line x1="576.00" y1="421.50" x2="612.00" y2="421.50" stroke="#33a86a" stroke-width="1.2"/>
<line x1="640.00" y1="421.50" x2="692.60" y2="421.50" stroke="#33a86a" stroke-width="1.2"/>
<line x1="739.50" y1="421.50" x2="761.30" y2="421.50" stroke="#33a86a" stroke-width="1.2"/>
<line x1="434.00" y1="437.60" x2="472.60" y2="437.60" stroke="#bc2228" stroke-width="1.2"/>
<line x1="498.40" y1="437.60" x2="547.00" y2="437.60" stroke="#bc2228" stroke-width="1.2"/>
<line x1="574.60" y1="437.60" x2="615.50" y2="437.60" stroke="#bc2228" stroke-width="1.2"/>
<line x1="639.20" y1="437.60" x2="702.30" y2="437.60" stroke="#bc2228" stroke-width="1.2"/>
<line x1="732.60" y1="437.60" x2="762.80" y2="437.60" stroke="#bc2228" stroke-width="1.2"/>
<text class="aa" x="469.40" y="425.90" font-size="13.3" fill="#2a9a5e" textLength="17.10" lengthAdjust="spacingAndGlyphs">Gln</text>
<text class="aa" x="552.30" y="425.90" font-size="13.3" fill="#2a9a5e" textLength="11.70" lengthAdjust="spacingAndGlyphs">Ile</text>
<text class="aa" x="619.50" y="425.90" font-size="13.3" fill="#2a9a5e" textLength="14.50" lengthAdjust="spacingAndGlyphs">Val</text>
<text class="aa" x="697.00" y="424.70" font-size="13.3" fill="#2a9a5e" textLength="42.10" lengthAdjust="spacingAndGlyphs">Lys+H<tspan font-size="8.5" dy="3">2</tspan><tspan dy="-3">O</tspan></text>
<text class="aa" x="481.30" y="443.90" font-size="13.3" fill="#d02830" textLength="15.70" lengthAdjust="spacingAndGlyphs">Lys</text>
<text class="aa" x="554.00" y="443.40" font-size="13.3" fill="#d02830" textLength="14.80" lengthAdjust="spacingAndGlyphs">Val</text>
<text class="aa" x="619.00" y="443.40" font-size="13.3" fill="#d02830" textLength="11.00" lengthAdjust="spacingAndGlyphs">Ile</text>
<text class="aa" x="710.70" y="443.40" font-size="13.3" fill="#d02830" textLength="16.60" lengthAdjust="spacingAndGlyphs">Gln</text>
<text class="pb" x="739.00" y="421.00" font-size="7.8" fill="#1a1a1a" textLength="44.00" lengthAdjust="spacingAndGlyphs">487.323</text>
<text class="pk" x="503.60" y="531.00" font-size="8.8" fill="#222" stroke="#222" stroke-width="0.14" textLength="42.60" lengthAdjust="spacingAndGlyphs">129.103</text>
<text class="pk" x="514.70" y="544.40" font-size="8.8" fill="#222" stroke="#222" stroke-width="0.14" textLength="42.80" lengthAdjust="spacingAndGlyphs">147.114</text>
<text class="pk" x="558.50" y="546.60" font-size="8.8" fill="#d02830" stroke="#d02830" stroke-width="0.14" textLength="43.00" lengthAdjust="spacingAndGlyphs">214.159</text>
<text class="pk" x="580.00" y="519.90" font-size="8.8" fill="#222" stroke="#222" stroke-width="0.14" textLength="40.80" lengthAdjust="spacingAndGlyphs">242.149</text>
<text class="pk" x="580.00" y="538.30" font-size="8.8" fill="#222" stroke="#222" stroke-width="0.14" textLength="42.00" lengthAdjust="spacingAndGlyphs">246.183</text>
<text class="pk" x="655.00" y="533.60" font-size="8.8" fill="#222" stroke="#222" stroke-width="0.14" textLength="43.40" lengthAdjust="spacingAndGlyphs">359.264</text>
<text class="pk" x="642.60" y="546.70" font-size="8.8" fill="#222" stroke="#222" stroke-width="0.14" textLength="43.90" lengthAdjust="spacingAndGlyphs">341.219</text>
<text class="pk" x="739.60" y="546.70" font-size="8.8" fill="#222" stroke="#222" stroke-width="0.14" textLength="43.70" lengthAdjust="spacingAndGlyphs">487.298</text>
<text class="sm" x="581.30" y="481.70" font-size="9.6" fill="#c42838" textLength="17.70" lengthAdjust="spacingAndGlyphs">29Da</text>
<polygon points="761.10,558.30 762.46,561.93 766.33,562.10 763.30,564.51 764.33,568.25 761.10,566.11 757.87,568.25 758.90,564.51 755.87,562.10 759.74,561.93" fill="#e8141c"/>
<text class="lt" x="0.6" y="601.8" font-size="20.8" fill="#111">G</text>
<line x1="54.70" y1="596.30" x2="54.70" y2="752.90" stroke="#3a3a3a" stroke-width="1.1"/>
<line x1="50.50" y1="750.40" x2="54.70" y2="750.40" stroke="#3a3a3a" stroke-width="1.0"/>
<text class="tk" x="40.70" y="752.80" font-size="7.1" fill="#222" textLength="5.10" lengthAdjust="spacingAndGlyphs">0</text>
<line x1="52.50" y1="738.57" x2="54.70" y2="738.57" stroke="#3a3a3a" stroke-width="1.0"/>
<line x1="50.50" y1="726.74" x2="54.70" y2="726.74" stroke="#3a3a3a" stroke-width="1.0"/>
<text class="tk" x="35.60" y="729.13" font-size="7.1" fill="#222" textLength="10.20" lengthAdjust="spacingAndGlyphs">50</text>
<line x1="52.50" y1="714.90" x2="54.70" y2="714.90" stroke="#3a3a3a" stroke-width="1.0"/>
<line x1="50.50" y1="703.07" x2="54.70" y2="703.07" stroke="#3a3a3a" stroke-width="1.0"/>
<text class="tk" x="30.50" y="705.47" font-size="7.1" fill="#222" textLength="15.30" lengthAdjust="spacingAndGlyphs">100</text>
<line x1="52.50" y1="691.24" x2="54.70" y2="691.24" stroke="#3a3a3a" stroke-width="1.0"/>
<line x1="50.50" y1="679.40" x2="54.70" y2="679.40" stroke="#3a3a3a" stroke-width="1.0"/>
<text class="tk" x="30.50" y="681.80" font-size="7.1" fill="#222" textLength="15.30" lengthAdjust="spacingAndGlyphs">150</text>
<line x1="52.50" y1="667.57" x2="54.70" y2="667.57" stroke="#3a3a3a" stroke-width="1.0"/>
<line x1="50.50" y1="655.74" x2="54.70" y2="655.74" stroke="#3a3a3a" stroke-width="1.0"/>
<text class="tk" x="30.50" y="658.14" font-size="7.1" fill="#222" textLength="15.30" lengthAdjust="spacingAndGlyphs">200</text>
<line x1="52.50" y1="643.91" x2="54.70" y2="643.91" stroke="#3a3a3a" stroke-width="1.0"/>
<line x1="50.50" y1="632.07" x2="54.70" y2="632.07" stroke="#3a3a3a" stroke-width="1.0"/>
<text class="tk" x="30.50" y="634.47" font-size="7.1" fill="#222" textLength="15.30" lengthAdjust="spacingAndGlyphs">250</text>
<line x1="52.50" y1="620.24" x2="54.70" y2="620.24" stroke="#3a3a3a" stroke-width="1.0"/>
<line x1="50.50" y1="608.41" x2="54.70" y2="608.41" stroke="#3a3a3a" stroke-width="1.0"/>
<text class="tk" x="30.50" y="610.81" font-size="7.1" fill="#222" textLength="15.30" lengthAdjust="spacingAndGlyphs">300</text>
<line x1="52.50" y1="596.58" x2="54.70" y2="596.58" stroke="#3a3a3a" stroke-width="1.0"/>
<line x1="50.50" y1="750.40" x2="397.00" y2="750.40" stroke="#3a3a3a" stroke-width="1.1"/>
<line x1="55.10" y1="750.40" x2="55.10" y2="753.20" stroke="#3a3a3a" stroke-width="1.0"/>
<text class="tk" x="52.58" y="761.00" font-size="7.1" fill="#222" textLength="5.05" lengthAdjust="spacingAndGlyphs">0</text>
<line x1="83.60" y1="750.40" x2="83.60" y2="752.00" stroke="#3a3a3a" stroke-width="1.0"/>
<line x1="112.10" y1="750.40" x2="112.10" y2="753.20" stroke="#3a3a3a" stroke-width="1.0"/>
<text class="tk" x="104.52" y="761.00" font-size="7.1" fill="#222" textLength="15.15" lengthAdjust="spacingAndGlyphs">100</text>
<line x1="140.60" y1="750.40" x2="140.60" y2="752.00" stroke="#3a3a3a" stroke-width="1.0"/>
<line x1="169.10" y1="750.40" x2="169.10" y2="753.20" stroke="#3a3a3a" stroke-width="1.0"/>
<text class="tk" x="161.53" y="761.00" font-size="7.1" fill="#222" textLength="15.15" lengthAdjust="spacingAndGlyphs">200</text>
<line x1="197.60" y1="750.40" x2="197.60" y2="752.00" stroke="#3a3a3a" stroke-width="1.0"/>
<line x1="226.10" y1="750.40" x2="226.10" y2="753.20" stroke="#3a3a3a" stroke-width="1.0"/>
<text class="tk" x="218.52" y="761.00" font-size="7.1" fill="#222" textLength="15.15" lengthAdjust="spacingAndGlyphs">300</text>
<line x1="254.60" y1="750.40" x2="254.60" y2="752.00" stroke="#3a3a3a" stroke-width="1.0"/>
<line x1="283.10" y1="750.40" x2="283.10" y2="753.20" stroke="#3a3a3a" stroke-width="1.0"/>
<text class="tk" x="275.52" y="761.00" font-size="7.1" fill="#222" textLength="15.15" lengthAdjust="spacingAndGlyphs">400</text>
<line x1="311.60" y1="750.40" x2="311.60" y2="752.00" stroke="#3a3a3a" stroke-width="1.0"/>
<line x1="340.10" y1="750.40" x2="340.10" y2="753.20" stroke="#3a3a3a" stroke-width="1.0"/>
<text class="tk" x="332.53" y="761.00" font-size="7.1" fill="#222" textLength="15.15" lengthAdjust="spacingAndGlyphs">500</text>
<line x1="368.60" y1="750.40" x2="368.60" y2="752.00" stroke="#3a3a3a" stroke-width="1.0"/>
<line x1="397.10" y1="750.40" x2="397.10" y2="753.20" stroke="#3a3a3a" stroke-width="1.0"/>
<text class="tk" x="389.52" y="761.00" font-size="7.1" fill="#222" textLength="15.15" lengthAdjust="spacingAndGlyphs">600</text>
<line x1="127.50" y1="741.00" x2="127.50" y2="750.40" stroke="#222" stroke-width="1.0"/>
<line x1="128.90" y1="744.00" x2="128.90" y2="750.40" stroke="#222" stroke-width="1.0"/>
<line x1="135.50" y1="741.00" x2="135.50" y2="750.40" stroke="#222" stroke-width="1.0"/>
<line x1="151.50" y1="734.90" x2="151.50" y2="750.40" stroke="#222" stroke-width="1.0"/>
<line x1="160.90" y1="697.60" x2="160.90" y2="750.40" stroke="#222" stroke-width="1.0"/>
<line x1="184.90" y1="743.20" x2="184.90" y2="750.40" stroke="#222" stroke-width="1.0"/>
<line x1="207.30" y1="745.00" x2="207.30" y2="750.40" stroke="#222" stroke-width="1.0"/>
<line x1="231.40" y1="745.00" x2="231.40" y2="750.40" stroke="#222" stroke-width="1.0"/>
<line x1="177.20" y1="596.90" x2="177.20" y2="705.60" stroke="#3a8a62" stroke-width="1.1" stroke-dasharray="3.4,3.1"/>
<line x1="177.20" y1="705.60" x2="177.20" y2="750.40" stroke="#2a7a50" stroke-width="1.1"/>
<line x1="225.30" y1="596.90" x2="225.30" y2="746.00" stroke="#3a8a62" stroke-width="1.1" stroke-dasharray="3.4,3.1"/>
<line x1="225.30" y1="746.00" x2="225.30" y2="750.40" stroke="#3a8a62" stroke-width="1.1"/>
<line x1="241.50" y1="596.90" x2="241.50" y2="725.00" stroke="#3a8a62" stroke-width="1.1" stroke-dasharray="3.4,3.1"/>
<line x1="241.50" y1="725.00" x2="241.50" y2="750.40" stroke="#2a5a40" stroke-width="1.1"/>
<line x1="298.30" y1="596.90" x2="298.30" y2="746.00" stroke="#3a8a62" stroke-width="1.1" stroke-dasharray="3.4,3.1"/>
<line x1="298.30" y1="746.00" x2="298.30" y2="750.40" stroke="#3a8a62" stroke-width="1.1"/>
<line x1="371.30" y1="596.90" x2="371.30" y2="746.00" stroke="#3a8a62" stroke-width="1.1" stroke-dasharray="3.4,3.1"/>
<line x1="371.30" y1="746.00" x2="371.30" y2="750.40" stroke="#3a8a62" stroke-width="1.1"/>
<line x1="138.70" y1="611.60" x2="138.70" y2="737.00" stroke="#bc2228" stroke-width="1.1" stroke-dasharray="3.4,3.1"/>
<line x1="138.70" y1="737.00" x2="138.70" y2="750.40" stroke="#a02228" stroke-width="1.1"/>
<line x1="195.20" y1="611.60" x2="195.20" y2="731.70" stroke="#bc2228" stroke-width="1.1" stroke-dasharray="3.4,3.1"/>
<line x1="195.20" y1="731.70" x2="195.20" y2="750.40" stroke="#6a2020" stroke-width="1.1"/>
<line x1="259.80" y1="611.60" x2="259.80" y2="742.00" stroke="#bc2228" stroke-width="1.1" stroke-dasharray="3.4,3.1"/>
<line x1="259.80" y1="742.00" x2="259.80" y2="750.40" stroke="#bc2228" stroke-width="1.1"/>
<line x1="381.50" y1="608.40" x2="381.50" y2="750.40" stroke="#bc2228" stroke-width="1.15"/>
<line x1="54.70" y1="596.90" x2="94.70" y2="596.90" stroke="#33a86a" stroke-width="1.2"/>
<line x1="142.70" y1="596.90" x2="191.60" y2="596.90" stroke="#33a86a" stroke-width="1.2"/>
<line x1="228.70" y1="596.90" x2="255.40" y2="596.90" stroke="#33a86a" stroke-width="1.2"/>
<line x1="284.00" y1="596.90" x2="312.70" y2="596.90" stroke="#33a86a" stroke-width="1.2"/>
<line x1="356.80" y1="596.90" x2="372.20" y2="596.90" stroke="#33a86a" stroke-width="1.2"/>
<line x1="54.70" y1="611.60" x2="80.00" y2="611.60" stroke="#bc2228" stroke-width="1.2"/>
<line x1="108.00" y1="611.60" x2="153.40" y2="611.60" stroke="#bc2228" stroke-width="1.2"/>
<line x1="182.80" y1="611.60" x2="211.30" y2="611.60" stroke="#bc2228" stroke-width="1.2"/>
<line x1="245.20" y1="611.60" x2="298.00" y2="611.60" stroke="#bc2228" stroke-width="1.2"/>
<line x1="351.40" y1="611.60" x2="381.60" y2="611.60" stroke="#bc2228" stroke-width="1.2"/>
<text class="aa" x="99.30" y="601.30" font-size="13.3" fill="#2a9a5e" textLength="42.10" lengthAdjust="spacingAndGlyphs">Asn-Val</text>
<text class="aa" x="197.40" y="601.30" font-size="13.3" fill="#2a9a5e" textLength="13.40" lengthAdjust="spacingAndGlyphs">Ile</text>
<text class="aa" x="260.00" y="601.30" font-size="13.3" fill="#2a9a5e" textLength="16.70" lengthAdjust="spacingAndGlyphs">Val</text>
<text class="aa" x="328.20" y="601.30" font-size="13.3" fill="#2a9a5e" textLength="18.80" lengthAdjust="spacingAndGlyphs">Lys</text>
<text class="aa" x="88.00" y="616.00" font-size="13.3" fill="#d02830" textLength="18.70" lengthAdjust="spacingAndGlyphs">Lys</text>
<text class="aa" x="160.00" y="618.00" font-size="13.3" fill="#d02830" textLength="17.40" lengthAdjust="spacingAndGlyphs">Val</text>
<text class="aa" x="218.80" y="617.00" font-size="13.3" fill="#d02830" textLength="13.40" lengthAdjust="spacingAndGlyphs">Ile</text>
<text class="aa" x="300.70" y="616.00" font-size="13.3" fill="#d02830" textLength="41.90" lengthAdjust="spacingAndGlyphs">Val-Asn</text>
<text class="pk" x="155.50" y="694.80" font-size="8.8" fill="#222" stroke="#222" stroke-width="0.14" textLength="41.90" lengthAdjust="spacingAndGlyphs">214.121</text>
<text class="pk" x="118.20" y="738.30" font-size="8.8" fill="#222" stroke="#222" stroke-width="0.14" textLength="41.80" lengthAdjust="spacingAndGlyphs">147.113</text>
<text class="pk" x="173.40" y="731.10" font-size="8.8" fill="#222" stroke="#222" stroke-width="0.14" textLength="42.30" lengthAdjust="spacingAndGlyphs">246.181</text>
<text class="pk" x="219.40" y="719.30" font-size="8.8" fill="#222" stroke="#222" stroke-width="0.14" textLength="43.80" lengthAdjust="spacingAndGlyphs">327.202</text>
<text class="pk" x="204.50" y="742.10" font-size="8.8" fill="#d02830" stroke="#d02830" stroke-width="0.14" textLength="35.80" lengthAdjust="spacingAndGlyphs">299.21</text>
<text class="pk" x="238.00" y="734.60" font-size="8.8" fill="#222" stroke="#222" stroke-width="0.14" textLength="43.70" lengthAdjust="spacingAndGlyphs">359.266</text>
<text class="pk" x="276.70" y="721.80" font-size="8.8" fill="#222" stroke="#222" stroke-width="0.14" textLength="42.50" lengthAdjust="spacingAndGlyphs">426.273</text>
<text class="pk" x="360.00" y="721.20" font-size="8.8" fill="#222" stroke="#222" stroke-width="0.14" textLength="43.00" lengthAdjust="spacingAndGlyphs">572.275</text>
<text class="pk" x="350.70" y="740.80" font-size="8.8" fill="#222" stroke="#222" stroke-width="0.14" textLength="42.50" lengthAdjust="spacingAndGlyphs">555.344</text>
<text class="sm" x="224.70" y="666.90" font-size="9.6" fill="#c42838" textLength="21.30" lengthAdjust="spacingAndGlyphs">29Da</text>
<polygon points="381.80,745.50 383.16,749.13 387.03,749.30 384.00,751.71 385.03,755.45 381.80,753.31 378.57,755.45 379.60,751.71 376.57,749.30 380.44,749.13" fill="#e8141c"/>
</svg>
</body></html>
